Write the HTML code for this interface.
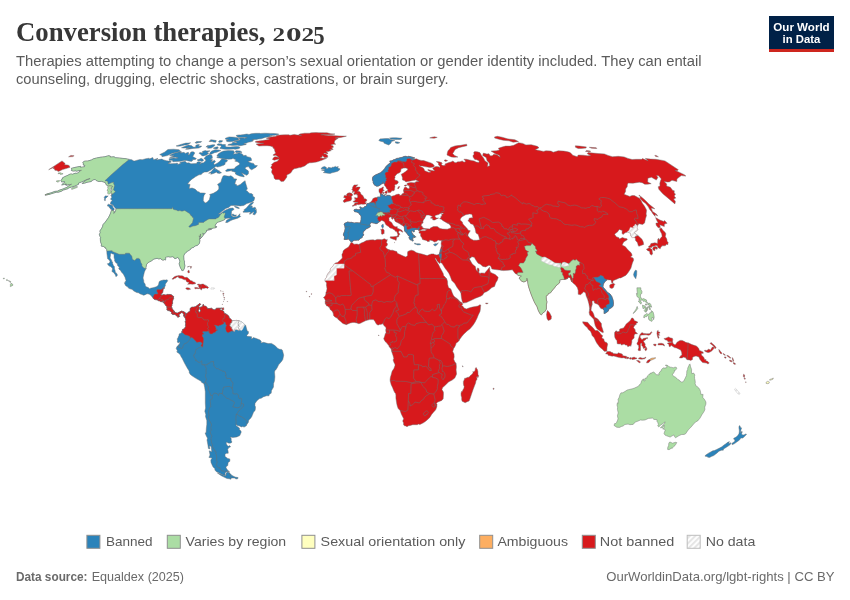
<!DOCTYPE html>
<html lang="en">
<head>
<meta charset="utf-8">
<title>Conversion therapies, 2025</title>
<style>
html,body{margin:0;padding:0;background:#fff;}
body{width:850px;height:600px;overflow:hidden;position:relative;font-family:"Liberation Sans",sans-serif;}
svg{position:absolute;left:0;top:0;will-change:transform;}
.title{font-family:"Liberation Serif",serif;font-weight:bold;font-size:26.7px;fill:#373737;}
.sub{font-family:"Liberation Sans",sans-serif;font-size:14.75px;fill:#5b5b5b;}
.leg{font-family:"Liberation Sans",sans-serif;font-size:13.3px;fill:#5b5b5b;}
.foot{font-family:"Liberation Sans",sans-serif;font-size:13px;fill:#6a6a6a;}
.logo{font-family:"Liberation Sans",sans-serif;font-weight:bold;font-size:11.6px;fill:#fff;}
</style>
</head>
<body>
<svg width="850" height="600" viewBox="0 0 850 600">
<defs>
<pattern id="hatch" patternUnits="userSpaceOnUse" width="3.9" height="3.9" patternTransform="rotate(45)">
<rect width="3.9" height="3.9" fill="#fdfdfd"/>
<line x1="0.9" y1="0" x2="0.9" y2="3.9" stroke="#e2e2e2" stroke-width="1.7"/>
</pattern>
</defs>
<rect width="850" height="600" fill="#fff"/>
<text class="title" x="16" y="41" textLength="249.5" lengthAdjust="spacingAndGlyphs">Conversion therapies,</text>
<g class="title">
<text x="272.6" y="40.6" font-size="19.6" textLength="12.6" lengthAdjust="spacingAndGlyphs">2</text>
<text x="285.9" y="40.6" font-size="19.6" textLength="15.6" lengthAdjust="spacingAndGlyphs">0</text>
<text x="301.4" y="40.6" font-size="19.6" textLength="12.6" lengthAdjust="spacingAndGlyphs">2</text>
<text x="313.2" y="44.3" font-size="24.4" textLength="11.4" lengthAdjust="spacingAndGlyphs">5</text>
</g>
<text class="sub" x="16" y="66.4" textLength="685.5" lengthAdjust="spacingAndGlyphs">Therapies attempting to change a person’s sexual orientation or gender identity included. They can entail</text>
<text class="sub" x="16" y="84" textLength="432.5" lengthAdjust="spacingAndGlyphs">counseling, drugging, electric shocks, castrations, or brain surgery.</text>
<g id="logo">
<rect x="769" y="16" width="65" height="36" fill="#002147"/>
<rect x="769" y="49" width="65" height="3" fill="#ce261e"/>
<text class="logo" x="773.3" y="30.7" textLength="56.4" lengthAdjust="spacingAndGlyphs">Our World</text>
<text class="logo" x="782.6" y="42.8" textLength="37.8" lengthAdjust="spacingAndGlyphs">in Data</text>
</g>
<g id="map" stroke="#6e6e6e" stroke-width="0.5" stroke-opacity="0.9" stroke-linejoin="round">
<path d="M350.7,242.7 352.0,242.4 354.0,244.2 357.0,244.0 358.7,244.5 361.3,242.9 363.7,242.1 366.3,240.6 370.0,239.9 373.2,239.8 374.9,240.3 377.1,239.4 379.4,239.4 382.0,239.7 384.1,238.8 385.4,239.0 385.9,240.1 387.3,239.4 387.0,241.1 386.4,242.4 387.6,244.0 387.0,245.8 385.5,246.8 386.2,248.1 387.8,249.2 388.7,249.6 390.7,250.3 392.6,250.2 394.8,251.0 396.8,251.6 397.4,253.3 400.1,254.6 403.2,255.9 405.9,257.0 407.6,255.4 407.5,253.1 407.8,251.5 410.1,250.5 411.7,250.2 414.1,251.0 416.2,252.6 418.7,253.3 421.8,253.9 423.8,254.6 427.2,255.6 429.6,254.5 431.5,253.9 433.7,253.9 434.6,254.5 436.4,254.9 437.7,254.8 438.9,254.4 440.8,259.1 440.3,261.4 440.0,263.1 439.6,263.6 438.4,262.2 437.2,260.9 435.9,258.6 435.5,257.9 435.2,258.8 436.1,260.6 437.6,263.0 438.9,265.3 439.9,267.4 441.5,270.3 443.2,273.4 443.6,275.5 446.0,278.1 446.7,278.9 447.5,281.2 447.7,284.6 448.5,287.5 450.9,289.1 452.2,292.7 453.3,295.3 454.7,296.9 457.3,298.7 460.2,301.8 462.3,303.1 462.6,304.7 461.5,305.8 462.6,306.0 464.1,308.1 466.4,308.9 468.9,308.0 472.3,307.1 475.3,306.5 478.0,306.0 479.8,304.8 480.8,305.1 480.5,307.1 480.4,308.9 480.0,311.5 478.3,314.9 477.0,318.3 475.0,322.2 473.0,325.3 470.1,328.7 467.1,331.0 463.7,334.2 461.6,336.8 460.0,338.9 458.6,341.2 457.4,342.3 456.0,343.3 455.8,344.6 454.6,347.2 453.7,348.3 452.7,351.6 454.0,354.0 454.2,356.9 453.7,359.2 454.8,361.8 456.1,363.4 456.4,366.8 456.1,369.9 456.6,374.1 454.8,378.0 452.2,380.1 448.5,381.9 445.8,384.8 442.7,387.6 441.9,389.5 443.4,392.1 443.5,393.6 443.3,397.3 443.2,398.8 441.8,400.4 437.4,402.2 436.4,403.5 437.0,404.3 436.8,406.9 435.7,409.8 433.3,412.4 431.8,414.2 429.8,417.4 426.9,420.2 425.3,421.5 423.4,422.8 421.1,423.9 419.8,424.5 418.5,424.1 417.3,424.7 414.9,424.7 412.8,424.7 410.3,425.4 408.5,425.8 407.0,426.7 405.7,426.0 404.5,425.7 403.6,424.9 403.5,422.8 402.7,421.0 403.7,418.7 402.3,416.1 401.3,414.0 400.1,410.6 398.2,408.5 397.4,406.4 396.8,404.1 396.5,402.2 395.9,398.2 395.9,395.2 395.6,393.6 394.7,392.6 393.7,390.5 392.5,387.4 391.2,384.8 390.2,381.1 390.1,379.5 390.4,377.2 391.1,374.9 392.1,371.2 393.9,368.6 395.0,365.5 394.9,363.9 394.2,363.1 393.1,360.0 393.8,358.4 393.1,355.8 391.8,351.9 391.6,351.1 391.1,349.0 389.0,346.4 388.8,345.6 386.1,342.3 385.1,341.5 383.8,338.9 383.8,338.1 384.3,337.2 384.9,335.2 385.4,333.4 386.1,333.1 385.7,330.0 386.1,327.9 385.1,326.4 384.1,325.8 383.1,324.3 383.1,323.5 380.8,324.5 379.8,324.3 378.9,325.0 377.1,324.8 375.9,323.2 375.0,321.4 373.4,319.6 371.8,319.6 369.7,319.6 367.9,320.1 365.9,320.6 363.5,321.7 362.4,322.2 361.0,323.0 358.9,323.7 356.8,323.0 354.3,322.4 352.8,322.4 350.2,323.0 348.5,323.7 346.2,324.7 345.8,324.5 342.8,323.5 340.7,321.4 338.7,320.1 337.3,318.3 335.0,317.0 333.6,315.7 333.4,314.6 333.1,312.8 332.1,311.2 331.2,310.2 330.0,309.4 329.8,308.1 328.9,307.3 327.6,306.0 326.6,306.0 326.2,304.7 325.5,304.2 325.3,303.7 325.1,301.7 325.4,300.5 324.5,298.5 323.4,297.6 324.3,297.1 325.5,295.3 325.9,294.0 325.9,292.5 326.5,291.2 327.0,288.8 326.6,286.2 326.4,284.9 326.6,283.6 326.2,282.3 325.0,281.2 325.1,280.2 325.2,278.9 326.1,278.1 326.8,276.8 326.8,276.0 327.6,274.2 328.9,272.4 329.6,272.1 330.3,270.6 330.4,269.2 331.3,267.6 332.7,266.6 334.3,264.0 334.3,263.9 335.5,263.0 337.5,262.6 339.3,260.9 340.4,260.1 342.3,258.0 341.9,254.6 342.9,252.6 343.1,251.0 344.5,249.4 346.8,248.1 348.5,247.1 350.0,244.5Z" fill="#d7191c"/>
<path d="M476.7,368.6 477.4,369.6 477.9,371.5 478.0,374.6 478.6,375.6 478.3,376.9 477.8,377.7 477.2,376.2 476.7,376.9 477.0,379.0 476.7,380.1 476.0,380.6 475.6,382.9 474.5,385.8 473.1,389.5 471.4,394.4 470.2,398.1 469.1,400.9 467.2,401.7 465.1,402.8 463.8,402.1 462.1,401.2 461.7,399.8 461.7,397.5 461.1,395.5 461.0,393.5 461.5,391.5 462.6,391.3 462.7,390.2 463.9,388.3 464.2,386.6 463.7,385.4 463.4,383.7 463.4,381.4 464.2,379.9 464.7,378.2 465.8,378.2 467.1,377.6 468.0,377.2 469.0,377.2 470.4,375.6 472.3,374.1 473.1,372.8 472.8,371.6 473.8,371.9 475.2,370.2 475.3,368.6 476.1,367.4Z" fill="#d7191c"/>
<path d="M343.3,235.0 343.7,233.3 344.6,231.2 345.1,228.6 344.8,226.3 344.1,224.2 344.7,223.2 346.4,222.6 347.5,221.9 350.0,222.4 351.6,222.3 354.1,223.0 356.0,222.7 357.9,222.8 359.7,223.0 360.6,221.9 361.0,219.6 361.1,217.6 361.0,215.8 359.6,214.5 359.0,213.2 357.8,212.5 356.4,212.0 354.6,211.7 353.9,210.3 354.4,209.5 356.4,209.2 358.1,209.7 359.5,209.5 360.4,209.5 360.3,208.2 359.7,206.9 360.9,206.9 361.3,207.8 363.1,207.9 363.8,207.4 364.3,206.8 365.7,206.3 366.6,205.4 366.7,204.0 367.3,203.6 368.6,203.4 370.1,202.7 370.4,202.2 371.4,201.2 372.4,200.0 372.8,198.7 374.0,198.1 375.4,197.6 376.9,197.5 377.5,197.9 377.3,197.0 379.1,196.9 380.0,197.1 380.4,196.4 381.0,196.4 380.6,195.8 380.2,195.3 380.7,194.9 380.1,193.9 380.1,193.4 379.6,192.6 379.0,192.3 379.0,191.0 378.9,189.7 379.1,189.4 379.7,188.5 381.2,188.3 382.2,187.3 383.4,186.9 383.4,187.7 383.0,188.9 383.0,189.7 384.2,190.1 383.9,190.8 382.9,190.8 382.6,191.9 382.2,192.4 381.7,193.2 381.7,194.0 382.8,194.4 383.1,195.3 384.6,195.1 385.0,195.3 384.4,196.1 385.8,196.1 386.9,195.8 387.7,195.0 388.8,195.4 390.0,195.4 390.2,195.9 391.2,196.4 392.6,195.9 394.5,195.5 396.3,194.5 398.7,194.1 399.8,194.6 399.3,195.0 399.7,195.3 401.0,195.3 401.5,195.0 401.9,194.5 402.0,193.8 402.9,193.8 403.9,192.8 403.8,191.9 403.6,191.0 403.4,190.0 404.0,188.8 404.1,187.8 405.9,186.9 407.2,188.0 408.1,188.8 409.0,188.6 409.5,188.0 409.2,186.6 409.3,185.6 407.8,185.5 407.2,184.5 407.0,183.4 408.1,183.0 409.3,182.7 411.1,182.5 413.2,182.7 415.3,182.8 415.3,182.0 416.9,181.6 418.3,181.6 419.1,181.6 418.0,181.0 415.9,179.9 414.4,180.2 412.8,180.5 410.7,180.9 409.3,181.2 407.6,181.5 405.9,181.9 405.0,181.0 404.2,180.6 402.6,180.1 402.4,178.9 402.5,177.8 401.8,175.8 401.2,174.2 403.1,173.3 403.8,172.8 404.4,172.3 405.8,171.4 406.7,170.5 407.8,169.8 407.5,168.7 406.1,168.1 405.4,168.0 403.6,168.1 402.1,168.6 401.0,169.1 400.8,170.5 400.6,171.7 399.5,172.8 397.8,173.4 396.8,174.0 395.8,175.4 394.8,176.0 395.1,177.5 394.6,178.4 394.9,179.9 395.7,180.3 397.4,180.8 398.4,182.1 397.9,183.2 396.8,184.2 395.2,184.6 394.7,185.1 395.0,186.9 394.6,188.0 394.6,189.6 394.0,190.7 393.2,190.8 391.7,190.8 390.9,192.3 389.9,192.6 388.3,192.7 388.4,192.2 387.7,191.1 387.2,190.5 387.9,189.6 386.5,188.5 385.9,187.1 384.6,185.5 384.2,183.9 383.7,183.4 383.2,182.8 383.2,181.8 382.8,182.7 382.6,183.7 381.4,183.9 380.5,184.9 378.5,186.1 376.7,186.3 375.7,185.7 374.3,184.9 373.8,183.9 373.1,183.0 373.1,181.5 372.7,180.6 372.4,179.1 372.6,177.7 372.9,176.7 374.5,175.6 376.2,174.6 377.2,174.2 379.1,173.3 380.5,172.8 381.4,172.1 382.8,170.7 383.3,170.0 384.7,168.7 385.3,167.5 386.2,166.2 388.1,164.6 389.6,163.3 390.5,162.4 389.7,161.0 392.0,160.8 393.5,159.7 395.0,159.4 396.6,158.4 398.7,158.2 399.7,157.8 401.3,157.5 402.4,157.2 403.9,156.5 405.6,156.3 407.7,156.7 408.7,156.3 411.0,156.8 413.2,157.4 414.8,157.9 413.3,158.4 411.4,158.4 413.4,159.2 414.7,159.1 416.5,158.8 418.6,159.8 421.1,160.4 423.7,160.6 426.5,161.5 429.3,162.4 430.9,162.9 432.5,163.7 433.8,165.0 434.5,166.2 433.7,166.8 432.6,167.2 430.1,167.4 427.4,167.1 424.7,166.6 422.3,166.1 420.2,165.9 419.1,165.0 419.8,166.2 421.5,167.1 423.4,168.0 424.4,169.8 424.7,170.8 426.6,171.4 428.4,172.2 430.4,172.3 430.5,171.4 429.0,171.1 427.6,170.0 428.1,169.5 430.6,170.2 433.3,170.7 434.7,170.8 433.7,169.8 432.7,168.4 433.8,167.5 435.9,166.5 438.4,166.7 439.7,167.5 440.0,166.2 438.6,165.0 438.4,163.0 436.3,161.6 439.1,161.8 441.6,162.6 442.3,163.5 441.0,164.1 442.3,165.3 443.4,165.6 445.4,165.3 444.9,164.0 446.3,163.5 448.8,162.6 451.1,161.9 452.9,161.0 454.7,162.4 456.0,162.7 457.8,161.8 460.0,161.8 462.2,160.9 464.1,162.3 465.7,161.3 463.9,159.2 466.5,159.3 471.3,160.4 474.2,161.0 476.1,162.1 478.9,162.6 479.2,161.0 476.7,159.7 474.8,159.5 473.1,157.1 473.0,155.6 474.1,154.3 473.7,152.4 474.7,151.6 477.2,151.8 479.9,152.6 481.5,155.4 483.7,158.2 484.9,160.8 488.0,163.0 487.5,166.4 489.7,165.7 489.2,163.0 487.1,160.8 486.1,157.5 482.6,155.4 483.4,153.1 486.9,154.1 489.0,153.7 490.1,155.8 492.2,155.8 493.8,154.3 497.1,154.8 500.2,157.3 499.2,155.2 494.8,153.5 491.1,151.1 496.2,150.8 499.5,149.9 498.4,148.3 502.0,147.1 505.6,146.1 510.1,146.1 513.8,145.3 515.6,144.3 518.6,142.7 522.7,143.4 525.9,144.9 531.2,144.7 537.3,146.3 539.0,147.7 537.1,148.7 535.3,149.7 540.4,150.8 543.5,151.4 545.9,150.8 551.0,151.1 553.2,152.2 555.8,151.5 558.2,150.8 563.7,151.1 567.8,151.8 570.2,152.6 572.1,154.5 572.7,155.2 577.2,156.7 578.3,155.0 583.5,155.2 587.5,155.8 590.7,155.4 587.2,153.7 588.1,152.6 593.1,153.1 598.1,153.5 604.4,153.9 608.1,155.4 612.4,156.7 615.4,156.5 618.3,156.3 624.2,156.9 628.0,158.4 632.1,159.5 635.9,159.3 641.7,159.3 642.4,158.6 648.2,160.8 645.4,158.4 650.5,159.1 655.8,159.3 661.4,160.2 665.0,160.9 678.3,169.7 677.3,170.7 675.1,170.5 678.1,171.7 684.3,174.7 685.9,176.1 681.3,175.6 679.0,177.3 676.9,179.1 676.8,181.5 672.0,180.3 669.3,181.9 667.2,182.0 664.1,181.5 666.7,183.9 666.5,185.9 670.3,187.2 672.8,190.5 674.3,190.8 674.1,192.9 675.5,194.0 674.2,196.1 675.8,198.1 673.6,198.9 675.4,201.4 674.9,203.9 670.2,199.9 662.8,193.7 658.8,189.2 658.2,186.8 660.0,186.1 659.8,183.2 660.5,180.8 661.3,178.9 658.6,175.8 656.5,175.6 657.9,177.5 656.3,180.1 651.5,177.3 647.9,178.2 647.7,182.0 651.2,183.7 647.5,184.2 644.8,184.3 642.2,182.7 639.3,182.2 636.1,182.7 632.9,183.2 628.5,183.1 627.5,183.9 627.2,186.8 625.6,189.0 625.6,191.4 624.1,194.3 629.8,196.4 632.1,195.5 634.4,195.6 639.7,198.4 641.0,200.4 642.2,203.1 644.4,206.1 645.9,208.7 646.6,210.2 646.1,214.0 646.5,215.5 645.6,218.3 644.9,221.4 644.6,223.0 642.6,224.5 638.8,223.7 637.6,225.8 636.8,228.1 638.0,229.4 636.2,231.2 634.4,232.3 635.0,233.8 637.9,235.4 642.0,239.3 643.3,242.1 643.7,244.5 640.9,245.5 638.8,246.3 638.2,245.3 637.5,242.7 635.4,240.3 635.5,238.2 633.8,237.5 632.2,237.7 630.8,235.6 630.5,233.3 627.7,232.0 625.1,232.8 623.0,234.6 622.0,233.3 622.2,230.4 619.2,229.4 617.5,232.0 615.0,233.8 614.7,234.6 616.3,236.7 618.9,237.7 619.5,239.0 622.4,237.5 624.3,238.2 627.1,238.8 627.2,239.8 623.7,241.9 622.4,244.5 622.5,245.3 625.2,246.6 628.1,250.0 631.1,252.8 632.2,255.2 630.6,257.0 633.1,258.0 633.7,259.9 632.4,263.0 630.9,268.2 628.5,272.1 626.0,275.2 620.8,277.9 619.3,278.1 616.1,279.4 613.0,280.7 612.9,283.1 611.7,282.8 611.0,279.9 609.7,279.9 607.2,279.8 604.8,281.8 603.4,284.1 603.0,286.5 603.4,287.5 605.4,289.8 607.3,292.2 610.1,294.0 611.8,296.4 613.1,300.0 613.5,303.4 613.1,306.3 611.0,308.1 609.0,308.9 608.2,311.2 605.2,313.3 604.0,313.6 604.1,310.4 602.9,308.9 600.9,308.6 599.6,306.8 599.1,305.5 597.6,304.2 594.5,303.1 594.1,301.1 593.1,300.8 592.0,301.3 592.3,304.4 591.4,307.3 591.0,310.2 592.7,312.0 593.8,314.4 594.6,317.2 597.2,318.5 598.4,319.8 601.4,323.5 601.5,326.1 602.7,329.5 603.5,332.3 602.3,332.6 601.6,332.1 598.8,330.3 596.7,328.4 595.2,325.6 594.4,322.2 593.8,319.3 592.6,318.0 589.7,315.1 589.1,312.5 589.6,309.9 589.7,308.6 589.2,305.5 588.8,303.4 587.7,299.5 586.2,296.1 585.6,293.0 583.8,291.7 582.4,293.0 580.6,294.8 578.2,294.3 578.2,290.4 577.4,287.8 575.4,284.9 573.6,283.6 572.0,281.9 571.1,280.2 570.4,277.9 568.4,277.1 567.5,278.6 565.3,279.2 564.0,279.4 562.5,279.4 559.8,279.9 559.8,281.8 559.3,283.1 557.7,284.4 556.0,285.7 554.3,288.3 552.7,289.8 550.7,292.7 548.5,293.5 548.0,294.8 546.1,296.1 546.4,300.0 547.0,301.8 546.4,304.7 546.4,309.1 544.7,311.8 543.0,312.8 541.4,314.9 540.0,313.8 538.2,310.2 537.1,306.8 534.5,302.4 531.7,295.8 530.2,291.7 528.5,286.5 527.9,283.6 527.6,280.7 526.9,278.1 526.7,280.7 523.9,282.0 521.6,281.2 519.0,278.1 521.5,276.0 518.3,275.5 516.8,274.2 515.1,273.4 513.5,271.3 512.4,269.8 508.0,270.3 503.1,270.6 501.5,270.3 499.2,270.0 495.1,269.5 491.9,269.0 490.7,266.1 489.0,265.3 485.7,266.9 482.9,266.4 480.4,264.3 478.1,263.3 476.2,260.6 474.2,257.3 471.7,256.7 470.8,258.0 469.7,258.0 469.6,259.3 471.0,261.7 472.1,263.8 474.1,265.6 475.4,266.6 475.9,269.2 477.4,271.6 477.2,269.5 477.5,267.9 478.9,268.5 479.2,271.1 478.6,272.1 479.8,273.4 481.6,272.9 484.8,273.2 485.6,272.1 487.4,270.0 488.9,268.1 489.5,267.2 489.9,270.8 490.7,272.4 495.2,274.5 498.2,277.3 497.5,279.9 495.8,282.8 494.5,286.5 491.9,287.5 489.1,290.1 486.5,291.7 484.3,292.6 482.4,295.3 480.2,296.4 475.5,298.2 472.9,299.5 466.4,302.6 463.0,303.1 462.2,301.3 461.4,297.4 460.9,293.2 460.4,291.9 458.4,289.3 456.9,287.2 454.6,283.3 451.8,280.5 450.1,276.0 448.8,273.2 446.9,270.6 445.4,268.7 441.8,263.0 440.4,262.7 441.0,259.1 440.8,259.1 438.9,254.4 439.4,253.6 439.8,252.4 440.2,250.5 440.9,247.6 441.4,246.0 441.1,243.4 441.6,240.6 440.3,240.6 438.1,240.1 436.3,241.6 434.4,242.0 432.5,240.8 429.6,239.9 429.4,241.4 427.5,241.6 426.3,240.4 424.5,240.1 422.5,239.5 421.9,237.7 420.6,235.9 420.6,233.6 419.0,233.0 419.1,231.7 420.1,230.7 421.8,230.8 424.9,230.7 426.7,229.8 424.7,229.2 422.6,229.2 420.6,230.2 419.0,231.0 418.5,230.2 418.2,229.5 415.1,229.4 414.1,230.7 414.4,231.7 413.2,231.9 412.9,231.2 412.0,230.4 411.5,231.7 412.3,233.6 413.2,234.3 412.6,234.7 414.9,236.4 415.0,237.8 414.1,237.2 412.8,237.2 413.3,238.2 412.3,238.2 413.3,240.8 412.1,241.1 411.3,239.5 410.3,240.1 408.8,237.5 410.0,236.4 408.7,236.0 407.7,234.6 406.5,232.8 406.0,232.5 404.6,231.0 404.4,228.4 404.3,226.8 403.4,226.3 402.3,225.4 401.4,224.9 400.1,224.0 397.7,222.7 396.6,222.2 395.0,221.2 394.3,219.1 393.2,218.1 392.8,218.9 392.2,219.4 391.6,218.6 391.5,217.6 391.9,217.2 390.6,216.9 388.8,217.8 389.1,219.1 389.0,220.4 389.7,221.3 391.6,222.4 393.3,225.4 395.2,226.7 397.5,226.8 397.0,227.9 399.2,228.9 401.6,230.1 402.7,231.4 402.5,232.3 401.7,231.7 399.9,230.6 398.7,231.5 398.6,232.5 400.0,234.3 398.7,234.9 399.0,236.2 398.0,237.1 397.1,237.1 397.0,236.4 397.9,235.1 397.8,234.3 396.7,231.6 395.3,231.2 394.8,230.1 393.6,229.5 392.2,228.6 390.0,228.0 389.2,227.2 388.3,226.3 386.8,225.5 385.4,224.1 384.9,222.6 383.9,221.3 381.9,220.4 381.1,220.6 380.1,221.7 379.1,221.9 378.7,222.2 377.9,222.7 377.3,223.5 375.8,223.7 374.7,223.2 373.1,223.0 371.8,222.6 370.4,223.2 369.9,224.2 369.9,225.3 370.4,225.8 370.2,226.8 368.1,228.1 366.0,228.9 365.3,229.9 363.5,231.7 362.9,233.2 363.9,235.0 362.4,236.2 362.0,238.0 361.4,238.0 360.1,238.6 358.8,240.3 358.1,240.1 356.0,240.3 354.0,240.3 351.9,241.9 351.4,242.1 349.9,240.8 349.7,240.2 348.5,239.0 346.5,239.5 344.1,239.5 344.6,236.9ZM430.5,228.0 433.4,226.6 437.2,226.4 440.0,228.4 442.7,229.0 447.3,229.2 450.9,227.9 450.8,226.2 449.1,224.0 446.1,222.4 442.7,220.5 441.7,219.6 439.6,218.6 440.9,217.8 440.9,216.3 442.0,216.3 441.6,214.5 443.6,213.5 442.7,213.1 440.1,213.6 438.7,214.5 435.8,215.3 434.8,215.9 435.5,217.3 436.6,218.1 438.6,218.0 436.6,218.9 434.9,220.0 432.8,220.0 432.6,218.6 430.4,218.0 432.5,216.5 431.2,216.0 429.0,215.1 426.4,215.1 425.5,216.7 424.6,218.3 422.9,220.9 423.1,223.0 421.8,223.5 421.1,225.3 422.3,226.7 422.9,227.9 424.7,228.6 429.6,228.9ZM461.6,217.3 460.8,218.3 460.1,219.9 462.3,221.9 462.9,224.0 465.2,226.6 466.7,227.9 468.3,230.2 470.3,230.8 468.7,233.3 467.9,234.9 468.1,235.9 470.1,238.4 473.4,240.2 476.7,240.3 479.8,239.8 479.4,238.8 479.0,236.9 478.1,234.3 476.6,233.6 475.4,231.7 476.0,231.7 475.6,231.0 475.0,228.4 474.2,226.8 473.1,224.5 470.6,223.7 469.9,222.4 467.8,220.6 468.8,219.9 469.2,218.2 471.4,217.8 472.7,218.1 472.3,215.5 471.7,214.2 469.4,214.0 465.7,214.8 464.8,215.3 462.1,216.8Z" fill="#d7191c"/>
<path d="M62.0,160.9 63.9,162.4 65.1,163.5 64.6,164.8 67.5,165.0 69.1,165.5 70.0,167.3 66.0,168.6 62.5,169.6 60.2,170.7 58.2,171.5 57.0,170.6 54.9,170.3 54.4,168.8 53.0,168.4 54.2,167.1 51.4,168.4 48.7,169.7Z" fill="#d7191c"/>
<path d="M371.9,202.7 373.4,202.5 375.1,203.2 374.7,204.1 375.4,204.2 375.6,203.1 375.8,202.4 375.2,201.6 376.7,201.4 377.4,200.5 377.3,199.5 377.6,198.1 377.4,197.8 377.5,197.9 377.3,197.0 379.1,196.9 380.0,197.1 380.4,196.4 381.0,196.4 380.6,195.8 380.2,195.3 380.7,194.9 380.1,193.9 380.1,193.9 380.2,193.9 381.7,194.2 382.1,194.2 382.8,194.4 383.1,195.3 384.6,195.1 385.0,195.3 384.4,196.1 385.8,196.1 386.9,195.8 387.7,195.0 388.8,195.4 390.0,195.4 390.2,195.9 391.0,196.3 391.1,196.4 391.6,197.9 391.2,199.0 392.1,199.7 392.5,201.0 392.5,202.1 393.2,203.1 392.9,204.0 391.9,203.6 390.4,204.4 389.2,205.1 387.6,205.4 388.5,206.4 388.8,207.4 389.6,207.9 391.3,209.2 390.7,209.8 389.6,210.7 389.9,211.6 389.9,212.5 388.3,212.2 385.9,212.7 384.7,212.3 384.3,213.0 383.0,212.3 380.8,211.7 378.9,212.3 378.0,216.5 377.6,216.8 378.1,217.7 377.2,218.6 378.1,219.6 377.8,220.5 379.5,221.0 379.2,221.9 379.1,221.9 378.7,222.2 377.9,222.7 377.3,223.5 375.8,223.7 374.7,223.2 373.1,223.0 371.8,222.6 370.4,223.2 369.9,224.2 369.9,225.3 370.4,225.8 370.2,226.8 368.1,228.1 366.0,228.9 365.3,229.9 363.5,231.7 362.9,233.2 363.9,235.0 362.4,236.2 362.0,238.0 361.4,238.0 360.1,238.6 358.8,240.3 358.1,240.1 356.0,240.3 354.0,240.3 351.9,241.9 351.4,242.1 349.9,240.8 349.7,240.2 348.5,239.0 346.5,239.5 344.1,239.5 344.6,236.9 343.3,235.0 343.7,233.3 344.6,231.2 345.1,228.6 344.8,226.3 344.1,224.2 344.7,223.2 346.4,222.6 347.5,221.9 350.0,222.4 351.6,222.3 354.1,223.0 356.0,222.7 357.9,222.8 359.7,223.0 360.6,221.9 361.0,219.6 361.1,217.6 361.0,215.8 359.6,214.5 359.0,213.2 357.8,212.5 356.4,212.0 354.6,211.7 353.9,210.3 354.4,209.5 356.4,209.2 358.1,209.7 359.5,209.5 360.4,209.5 360.3,208.2 359.7,206.9 360.9,206.9 361.3,207.8 363.1,207.9 363.8,207.4 364.3,206.8 365.7,206.3 366.6,205.4 366.7,204.0 367.3,203.6 368.6,203.4 370.1,202.7 370.2,202.7 370.2,202.7Z" fill="#2b83ba"/>
<path d="M384.0,183.7 383.7,183.4 383.2,182.8 383.2,181.8 382.8,182.7 382.6,183.7 381.4,183.9 380.5,184.9 378.5,186.1 376.7,186.3 375.7,185.7 374.3,184.9 373.8,183.9 373.1,183.0 373.1,181.5 372.7,180.6 372.4,179.1 372.6,177.7 372.9,176.7 374.5,175.6 376.2,174.6 377.2,174.2 379.1,173.3 380.5,172.8 381.4,172.1 382.8,170.7 383.3,170.0 384.7,168.7 385.3,167.5 386.2,166.2 388.1,164.6 389.6,163.3 390.5,162.4 389.7,161.0 392.0,160.8 393.5,159.7 395.0,159.4 396.6,158.4 398.7,158.2 399.7,157.8 401.3,157.5 402.4,157.2 403.9,156.5 405.6,156.3 407.7,156.7 408.7,156.3 411.0,156.8 413.2,157.4 414.8,157.9 413.3,158.4 411.4,158.4 413.4,159.2 414.7,159.1 414.8,159.6 413.6,159.7 412.4,160.2 410.6,159.1 409.8,158.4 407.4,158.7 406.7,159.5 406.6,161.0 405.4,161.8 402.1,161.5 400.3,160.8 398.7,160.8 397.5,160.7 397.2,162.1 394.0,161.9 392.8,162.8 390.9,164.1 391.5,164.8 390.3,166.8 388.6,167.3 388.8,169.1 387.6,170.7 388.3,171.0 387.7,172.0 386.0,172.1 384.9,173.7 385.1,174.4 385.6,176.1 385.4,177.5 386.7,178.2 385.7,179.1 386.4,180.6 385.0,181.8 385.3,183.2 384.1,183.7Z" fill="#2b83ba"/>
<path d="M404.6,225.3 405.5,225.2 406.5,226.1 406.8,227.0 406.7,228.4 407.2,229.4 407.9,229.5 409.1,229.4 409.9,228.8 411.8,228.2 413.2,228.1 415.1,228.0 416.9,228.5 418.5,228.2 418.9,227.3 419.6,228.2 419.1,229.3 418.6,229.9 418.6,230.3 418.5,230.2 418.2,229.5 415.1,229.4 414.1,230.7 414.4,231.7 413.2,231.9 412.9,231.2 412.0,230.4 411.5,231.7 412.3,233.6 413.2,234.3 412.6,234.7 414.9,236.4 415.0,237.8 414.1,237.2 412.8,237.2 413.3,238.2 412.3,238.2 413.3,240.8 412.1,241.1 411.3,239.5 410.3,240.1 408.8,237.5 410.0,236.4 408.7,236.0 407.7,234.6 406.5,232.8 406.0,232.5 404.6,231.0 404.4,228.4 404.3,226.8 404.2,226.8Z" fill="#2b83ba"/>
<path d="M439.4,253.7 439.4,253.6 439.4,253.6 439.8,252.4 440.2,250.5 440.4,249.7 441.3,249.3 441.9,249.2 441.6,250.7 441.5,251.5 440.7,251.3 440.3,252.8 440.5,254.1 441.6,253.9 441.5,255.2 441.3,257.0 441.0,258.9 440.8,259.1 439.0,254.6Z" fill="#2b83ba"/>
<path d="M517.9,272.6 523.1,272.4 521.5,269.0 520.1,266.9 518.5,265.6 520.1,263.0 523.5,263.1 525.2,260.4 525.9,258.0 527.9,255.0 527.1,252.6 528.7,251.8 526.4,250.5 525.3,249.4 524.8,247.3 524.2,246.4 526.6,245.6 530.5,245.6 532.1,243.4 535.3,246.6 535.6,248.6 536.8,250.0 537.1,251.3 535.5,251.0 536.7,253.9 539.2,255.4 542.7,257.3 544.9,257.0 549.4,259.6 552.5,261.4 554.8,263.0 557.1,263.3 559.6,263.3 561.0,262.7 561.6,264.8 562.5,262.7 564.2,262.2 566.6,263.0 567.6,263.5 569.3,263.3 570.9,261.3 573.1,259.6 575.1,260.3 576.4,259.2 577.9,260.8 579.9,262.3 579.5,263.8 580.0,265.3 577.8,264.9 576.0,266.5 576.3,268.2 575.4,270.4 575.5,271.6 574.9,273.8 573.1,273.3 573.5,276.0 573.1,276.8 573.4,278.1 572.3,278.6 572.6,280.5 572.0,281.9 571.1,280.2 570.4,277.9 568.4,277.1 567.5,278.6 565.3,279.2 564.0,279.4 562.5,279.4 559.8,279.9 559.8,281.8 559.3,283.1 557.7,284.4 556.0,285.7 554.3,288.3 552.7,289.8 550.7,292.7 548.5,293.5 548.0,294.8 546.1,296.1 546.4,300.0 547.0,301.8 546.4,304.7 546.4,309.1 544.7,311.8 543.0,312.8 541.4,314.9 540.0,313.8 538.2,310.2 537.1,306.8 534.5,302.4 531.7,295.8 530.2,291.7 528.5,286.5 527.9,283.6 527.6,280.7 526.9,278.1 526.7,280.7 523.9,282.0 521.6,281.2 519.0,278.1 521.5,276.0 518.3,275.5 516.8,274.2Z" fill="#abdda4"/>
<path d="M604.3,307.4 606.8,307.6 605.8,305.8 607.0,304.8 609.4,303.7 609.4,301.1 608.7,299.5 608.8,297.7 608.9,296.9 608.5,295.6 605.7,291.8 603.2,289.3 602.1,287.5 598.8,285.7 601.1,284.6 599.5,282.8 596.4,281.6 595.0,279.5 593.6,277.6 595.5,277.3 597.5,277.2 599.4,276.5 600.3,275.2 603.2,276.3 603.6,277.3 604.8,278.9 607.2,279.8 604.8,281.8 603.4,284.1 603.0,286.5 603.4,287.5 605.4,289.8 607.3,292.2 610.1,294.0 611.8,296.4 613.1,300.0 613.5,303.4 613.1,306.3 611.0,308.1 609.0,308.9 608.2,311.2 605.2,313.3 604.0,313.6 604.1,310.4 602.9,308.9Z" fill="#2b83ba"/>
<path d="M629.1,230.2 630.4,227.2 633.4,228.1 633.0,226.6 634.7,225.5 635.1,224.1 637.3,225.5 637.6,225.7 637.6,225.8 636.8,228.1 638.0,229.4 636.2,231.2 634.4,232.3 635.0,233.8 637.9,235.4 638.0,235.4 637.8,235.4 635.5,236.2 635.1,237.1 634.1,237.6 633.8,237.5 632.2,237.7 630.8,235.6 630.5,233.3 627.7,232.0 627.1,232.2 627.5,231.9Z" fill="url(#hatch)" stroke="#c4c4c4"/>
<path d="M378.9,212.3 380.8,211.7 382.8,212.3 383.1,213.6 384.8,214.1 384.8,214.9 384.2,215.7 382.5,215.1 382.0,216.7 380.8,215.5 379.6,216.5 378.0,216.5 377.4,215.3 375.7,215.9 376.0,215.0 377.7,212.6Z" fill="#abdda4"/>
<path d="M542.7,257.3 544.9,257.0 549.4,259.6 552.5,261.4 554.8,263.0 557.1,263.3 559.6,263.3 559.8,264.6 560.3,267.2 558.3,267.2 555.5,266.5 553.9,266.2 552.3,265.1 549.1,264.7 546.0,263.3 543.5,261.9 541.2,260.9 541.3,258.8Z" fill="url(#hatch)" stroke="#c4c4c4"/>
<path d="M561.6,264.8 562.5,262.7 564.2,262.2 566.6,263.0 567.6,263.5 568.7,264.6 569.0,266.0 566.6,266.1 563.9,266.4 562.1,266.2 561.5,265.3Z" fill="url(#hatch)" stroke="#c4c4c4"/>
<path d="M563.6,276.3 562.5,274.5 562.6,272.6 561.1,271.9 561.3,270.3 560.6,268.7 561.1,267.2 563.4,268.2 564.7,270.0 567.2,270.4 570.5,270.6 570.2,272.4 568.5,273.2 568.5,274.7 569.4,276.0 570.2,274.3 571.1,275.5 572.3,278.6 572.6,280.5 572.0,281.9 571.1,280.2 570.4,277.9 568.4,277.1 567.5,278.6 565.3,279.2 564.3,279.4 564.3,278.9Z" fill="#d7191c"/>
<path d="M71.4,168.3 76.0,167.2 80.5,166.3 80.4,167.3 84.4,166.8 85.0,165.4 83.3,165.0 83.4,163.7 82.8,162.3 84.8,161.1 87.9,161.0 91.5,159.9 93.5,158.8 96.5,158.0 100.7,157.2 104.6,156.8 108.5,155.7 110.3,156.1 110.2,157.1 114.1,156.8 115.4,157.7 119.4,158.0 122.6,158.4 125.2,158.6 129.2,159.4 131.9,159.7 133.2,160.8 134.6,161.0 137.2,160.2 140.0,159.5 142.2,159.7 145.9,158.7 149.2,158.2 149.3,159.1 152.7,157.5 153.7,159.7 158.0,158.3 156.3,159.9 158.7,159.6 161.9,159.1 163.6,159.9 166.6,160.8 168.6,161.1 170.4,161.0 171.4,162.1 168.0,163.3 170.6,163.7 175.4,163.5 177.4,163.0 177.8,164.4 180.7,163.3 179.8,162.4 185.2,161.3 186.8,163.0 188.9,162.8 190.9,163.8 196.5,163.5 197.2,162.1 199.1,161.7 201.2,162.5 199.5,164.6 201.9,162.8 203.2,162.9 205.8,160.7 205.2,159.3 204.0,158.4 206.2,156.0 209.5,154.5 211.4,154.9 212.1,155.8 212.4,158.2 210.0,159.3 212.7,159.7 211.0,161.9 214.6,160.3 215.5,161.7 213.8,163.3 214.2,164.8 217.2,163.3 219.8,161.3 221.8,158.8 224.0,159.1 226.2,159.4 227.6,160.5 227.0,161.6 224.8,162.8 225.3,163.9 224.2,165.0 219.8,166.6 217.2,167.0 215.9,166.3 214.6,167.4 211.5,169.4 210.4,170.3 207.2,171.9 204.6,172.0 202.5,173.0 201.2,174.6 199.0,174.8 195.4,176.8 191.6,179.4 189.7,181.3 187.6,184.0 190.1,184.4 189.5,186.7 189.2,188.5 192.1,188.0 194.9,189.1 196.2,190.1 197.0,191.2 199.0,191.9 200.4,192.9 203.5,193.0 205.5,193.3 204.0,195.4 203.4,197.9 203.3,200.7 205.1,203.1 207.0,202.2 209.3,199.7 210.3,195.8 209.6,194.5 213.3,193.3 216.3,191.6 218.2,189.9 218.9,188.3 218.7,186.2 217.5,184.4 221.0,181.9 221.5,179.7 223.0,176.1 224.6,175.5 227.3,176.1 229.1,176.3 230.9,175.7 232.1,176.6 233.6,177.8 233.7,178.8 236.8,179.0 235.7,181.0 234.8,183.9 236.4,184.4 237.0,185.9 240.3,184.5 243.3,181.9 245.1,180.7 245.5,182.8 246.5,186.0 247.4,188.9 246.0,190.3 248.0,191.7 249.2,193.2 252.0,193.8 252.8,194.6 252.9,196.6 254.3,197.0 254.7,198.0 253.9,200.7 252.2,201.7 250.4,202.6 246.9,203.5 243.7,205.5 240.2,205.9 236.1,205.4 233.1,205.4 231.0,205.5 228.6,207.4 225.7,208.5 221.5,211.8 218.3,214.2 220.2,213.7 224.7,210.4 229.7,208.3 232.8,208.0 234.2,209.3 231.6,211.1 231.4,213.7 231.5,215.7 233.7,216.9 237.2,216.5 240.1,213.7 239.7,215.5 240.7,216.5 237.7,218.2 232.7,219.7 230.3,220.8 227.4,222.6 225.8,222.4 226.5,220.3 230.8,218.1 227.5,218.2 225.0,218.5 225.0,219.4 222.5,220.6 220.1,221.5 217.7,222.2 216.0,223.7 215.1,225.7 215.3,227.1 216.1,227.1 216.2,226.2 216.6,226.8 216.2,227.5 214.7,227.9 213.8,227.9 212.0,228.4 209.8,228.6 207.8,229.3 211.0,228.9 211.5,229.3 208.3,230.1 206.9,230.2 206.2,230.6 206.8,230.7 205.8,232.5 203.7,234.5 203.7,233.8 202.7,233.0 203.2,234.9 202.9,235.9 201.9,236.9 200.1,239.0 199.9,238.9 201.2,237.1 200.3,236.2 200.7,233.9 200.0,235.1 200.0,236.7 198.8,236.3 199.9,237.2 199.3,239.7 199.9,239.8 199.9,240.7 199.4,243.3 197.6,245.3 195.1,246.0 193.3,247.6 192.2,247.7 190.8,248.6 190.3,249.6 187.4,251.3 186.0,252.4 184.5,254.0 183.7,255.9 183.8,257.6 183.9,259.9 184.5,261.8 184.3,262.9 184.9,265.9 184.5,267.7 184.2,268.7 183.4,270.3 182.7,270.6 181.7,270.3 181.4,269.1 180.8,268.6 179.9,266.2 179.3,264.3 179.2,263.3 179.9,261.6 179.6,260.1 178.4,257.9 177.6,257.5 175.1,258.7 174.7,258.6 174.0,257.4 172.7,256.7 170.1,257.1 168.3,256.7 166.4,257.0 165.5,257.4 165.8,258.0 165.5,259.1 165.8,259.6 165.3,260.0 164.5,259.6 163.6,260.1 162.0,260.0 160.8,258.6 158.7,258.9 157.2,258.3 155.8,258.6 153.8,259.1 151.3,261.0 148.8,262.2 147.3,263.4 146.5,264.6 145.9,267.7 146.2,268.6 144.8,270.9 144.2,272.8 143.4,276.2 143.1,277.5 143.2,278.9 143.7,280.2 143.8,282.2 145.1,284.1 145.4,285.7 146.1,286.8 148.4,287.6 149.3,288.7 151.3,288.0 153.0,287.8 154.8,287.2 156.3,286.7 157.9,285.7 158.6,284.2 159.1,282.0 159.6,281.2 161.2,280.6 163.7,279.9 165.7,280.1 167.1,279.8 167.6,280.3 167.3,281.6 165.9,283.2 165.2,284.8 165.5,285.3 165.0,286.3 164.2,288.4 163.7,287.8 163.2,287.8 163.6,288.2 163.5,288.8 162.9,290.0 163.1,290.4 162.8,291.3 162.9,291.5 162.5,292.8 161.9,293.6 161.5,293.6 160.9,294.5 161.7,295.1 161.9,294.7 162.6,295.1 162.8,295.1 163.3,294.7 164.0,294.5 164.2,294.8 164.6,294.7 165.5,294.9 166.6,294.8 167.4,294.5 167.7,294.3 168.3,294.4 168.9,294.5 169.5,294.5 169.9,294.3 171.0,294.7 171.4,294.7 172.0,295.2 172.6,295.8 173.4,296.2 173.9,296.9 173.6,297.1 173.5,297.7 173.6,298.7 173.1,299.6 172.7,300.7 172.5,301.7 172.6,302.5 172.6,303.7 172.1,303.9 171.9,305.0 172.0,305.6 171.5,306.4 171.6,307.1 171.9,307.4 172.3,308.9 173.2,309.9 174.2,311.1 174.9,312.0 174.9,312.5 175.8,312.7 176.0,312.4 176.6,313.1 177.7,312.9 178.8,312.3 180.2,311.8 181.1,311.0 182.3,311.1 182.2,311.4 183.4,311.5 184.4,311.9 185.1,312.7 186.0,313.4 185.6,313.8 186.1,315.3 185.6,316.1 184.9,315.9 184.5,317.1 183.9,316.4 183.4,315.0 184.0,314.4 183.4,314.1 183.1,313.3 182.0,312.5 181.0,312.7 180.5,313.6 179.5,314.2 178.9,314.4 178.7,314.9 179.7,316.3 179.0,316.7 178.8,317.1 177.6,317.2 177.4,315.7 177.0,316.1 176.3,315.9 175.9,314.9 174.9,314.6 174.3,314.4 173.4,314.4 173.3,315.0 173.1,314.6 171.8,314.0 171.4,313.4 171.6,312.9 171.6,312.4 171.0,311.8 170.1,311.2 169.4,311.0 169.3,310.2 168.7,309.7 168.8,310.4 168.3,311.1 167.8,310.3 167.1,310.1 166.8,309.5 166.9,308.8 167.3,308.0 166.6,307.6 167.2,307.1 166.5,306.3 165.5,305.2 165.0,304.3 164.2,303.5 163.1,302.4 163.4,302.0 163.7,302.4 163.9,302.1 163.5,301.3 162.9,301.1 162.6,301.7 161.2,301.7 160.4,301.5 159.6,300.9 158.3,300.8 157.7,300.1 156.6,299.8 155.1,299.6 154.1,299.2 153.0,298.1 150.8,295.3 149.7,294.4 147.9,293.8 146.7,293.9 144.7,294.9 143.5,295.2 142.0,294.5 140.4,294.0 138.4,292.8 136.7,292.5 134.3,291.3 132.6,290.0 132.2,289.3 130.8,289.1 128.7,288.3 127.9,287.1 125.7,285.7 124.8,284.0 124.4,282.7 125.3,282.4 125.1,281.8 125.8,281.0 126.0,280.2 125.4,279.0 125.3,278.0 124.7,276.7 123.3,274.1 121.4,272.0 120.6,270.4 119.0,269.2 118.7,268.7 119.4,267.0 118.4,266.4 117.4,265.2 117.3,263.4 116.1,263.1 115.2,261.8 114.5,260.5 114.7,259.7 114.1,257.8 114.0,255.7 114.2,254.8 113.0,253.7 112.2,253.9 111.2,253.1 110.5,254.1 110.5,255.4 110.1,257.4 110.4,258.4 111.6,260.3 111.8,260.9 111.9,261.9 112.1,261.9 112.5,261.9 112.6,263.5 113.0,264.3 113.2,265.2 114.4,266.5 114.5,268.9 114.9,270.0 115.3,271.2 115.1,272.6 116.2,272.8 116.9,273.9 117.5,275.1 117.3,275.5 116.2,276.5 115.8,276.5 115.5,275.0 114.3,273.4 113.0,272.1 111.9,271.5 112.4,269.6 112.4,268.2 111.5,267.4 110.3,266.2 109.9,266.5 109.5,265.9 108.3,265.2 107.4,263.8 107.7,263.5 108.5,263.6 109.5,262.7 110.0,261.6 108.9,259.6 107.7,258.9 107.4,257.3 107.2,255.6 106.9,253.5 106.8,251.1 106.9,249.8 106.0,248.4 105.1,248.0 105.2,247.2 104.0,247.1 103.5,246.4 101.6,246.2 101.2,245.8 101.5,244.3 100.5,241.7 100.3,238.1 100.7,237.5 100.1,236.7 99.4,234.5 100.3,232.4 99.8,231.0 101.4,228.8 102.6,226.6 103.0,224.6 105.2,222.2 108.5,217.6 110.2,214.1 111.0,212.0 111.2,210.7 111.8,210.2 114.2,211.1 113.7,213.5 114.6,212.8 115.6,210.7 116.2,208.7 115.9,208.7 113.7,206.3 113.1,205.1 110.3,204.0 110.8,201.9 112.3,200.2 110.5,199.2 111.8,197.2 111.0,195.4 112.0,194.2 111.8,193.2 110.7,192.4 112.0,190.3 111.5,188.3 112.5,186.1 110.9,185.9 107.9,185.9 106.5,185.1 105.2,182.6 103.8,182.1 101.5,181.3 98.7,181.5 96.2,180.5 95.2,179.4 92.6,180.0 91.3,181.5 87.4,182.2 84.8,183.1 82.2,183.6 83.5,182.1 87.0,179.7 89.7,179.0 89.9,178.4 86.1,179.7 82.9,181.4 78.5,183.1 78.5,184.3 74.9,186.0 71.8,186.9 69.0,187.8 67.5,188.8 63.2,190.1 61.3,191.3 58.0,192.3 56.9,192.1 54.4,192.8 51.4,193.7 49.1,194.4 45.0,195.1 45.1,194.8 48.5,193.5 51.2,192.8 54.7,191.4 57.3,191.2 59.3,190.2 63.5,188.8 64.5,188.3 66.8,187.4 69.1,185.6 71.6,184.2 68.7,184.9 68.7,184.4 66.6,185.4 66.8,184.0 65.2,185.0 65.9,183.8 62.9,184.8 61.7,184.8 63.3,183.3 64.8,182.4 64.6,181.5 61.6,182.0 61.3,180.9 60.8,180.3 62.4,179.0 62.3,178.0 64.6,176.7 67.9,175.3 70.0,174.1 71.6,174.0 72.4,174.3 75.3,173.2 76.2,173.4 78.5,172.7 79.5,171.7 79.1,171.2 81.5,170.3 80.3,170.4 77.9,170.8 76.8,171.3 76.0,170.8 73.2,171.1 71.4,170.5 71.8,169.6Z" fill="#2b83ba"/>
<path d="M172.0,208.7 172.5,207.6 173.1,207.8 172.9,209.0 174.6,209.7 176.4,210.1 178.0,210.9 179.8,210.6 182.0,211.2 184.7,210.4 190.3,214.0 190.1,214.8 190.6,215.0 191.2,215.7 191.5,216.0 192.1,216.0 192.2,216.4 191.8,216.8 193.5,218.0 192.5,222.6 191.3,224.0 189.8,225.4 189.1,226.3 188.8,226.7 190.0,227.3 192.9,226.1 195.3,225.7 198.5,224.4 198.7,223.3 198.5,222.8 199.7,222.4 203.6,222.4 204.6,221.4 207.9,219.4 209.0,218.9 215.9,218.9 216.3,218.2 218.1,217.7 219.2,216.5 220.5,214.5 222.7,212.6 223.0,213.2 224.6,212.8 225.3,213.6 224.1,217.1 225.0,218.5 225.0,219.4 222.5,220.6 220.1,221.5 217.7,222.2 216.0,223.7 215.1,225.7 215.3,227.1 216.1,227.1 216.2,226.2 216.6,226.8 216.2,227.5 214.7,227.9 213.8,227.9 212.0,228.4 209.8,228.6 207.8,229.3 211.0,228.9 211.5,229.3 208.3,230.1 206.9,230.2 206.2,230.6 206.8,230.7 205.8,232.5 203.7,234.5 203.7,233.8 202.7,233.0 203.2,234.9 202.9,235.9 201.9,236.9 200.1,239.0 199.9,238.9 201.2,237.1 200.3,236.2 200.7,233.9 200.0,235.1 200.0,236.7 198.8,236.3 199.9,237.2 199.3,239.7 199.9,239.8 199.9,240.7 199.4,243.3 197.6,245.3 195.1,246.0 193.3,247.6 192.2,247.7 190.8,248.6 190.3,249.6 187.4,251.3 186.0,252.4 184.5,254.0 183.7,255.9 183.8,257.6 183.9,259.9 184.5,261.8 184.3,262.9 184.9,265.9 184.5,267.7 184.2,268.7 183.4,270.3 182.7,270.6 181.7,270.3 181.4,269.1 180.8,268.6 179.9,266.2 179.3,264.3 179.2,263.3 179.9,261.6 179.6,260.1 178.4,257.9 177.6,257.5 175.1,258.7 174.7,258.6 174.0,257.4 172.7,256.7 170.1,257.1 168.3,256.7 166.4,257.0 165.5,257.4 165.8,258.0 165.5,259.1 165.8,259.6 165.3,260.0 164.5,259.6 163.6,260.1 162.0,260.0 160.8,258.6 158.7,258.9 157.2,258.3 155.8,258.6 153.8,259.1 151.3,261.0 148.8,262.2 147.3,263.4 146.5,264.6 145.9,267.7 146.1,268.4 145.3,268.6 143.8,268.1 141.9,266.0 141.9,264.2 140.9,262.7 139.9,259.3 138.6,258.4 136.7,258.4 134.8,260.5 133.1,259.7 132.2,258.9 132.1,257.5 131.7,256.1 130.7,254.9 129.9,254.1 129.4,253.2 125.5,253.2 125.2,254.3 119.1,254.3 114.7,252.4 111.8,251.3 112.2,250.7 106.8,251.1 106.9,249.8 106.0,248.4 105.1,248.0 105.2,247.2 104.0,247.1 103.5,246.4 101.6,246.2 101.2,245.8 101.5,244.3 100.5,241.7 100.3,238.1 100.7,237.5 100.1,236.7 99.4,234.5 100.3,232.4 99.8,231.0 101.4,228.8 102.6,226.6 103.0,224.6 105.2,222.2 108.5,217.6 110.2,214.1 111.0,212.0 111.2,210.7 111.8,210.2 114.2,211.1 113.7,213.5 114.6,212.8 115.6,210.7 116.2,208.7 120.5,208.7 124.8,208.7 129.1,208.7 133.4,208.7 137.7,208.7 142.0,208.7 146.2,208.7 150.5,208.7 154.8,208.7 159.1,208.7 163.4,208.7 167.7,208.7ZM226.0,222.5 225.8,222.4 225.9,222.2Z" fill="#abdda4"/>
<path d="M104.9,180.8 106.6,181.0 107.7,181.5 107.9,182.6 108.1,184.2 111.2,182.8 113.8,182.0 113.5,183.3 113.9,184.3 114.5,185.4 114.1,187.1 113.5,189.9 115.4,191.4 114.1,192.9 112.0,194.2 111.8,193.2 110.7,192.4 112.0,190.3 111.5,188.3 112.5,186.1 110.9,185.9 107.9,185.9 106.5,185.1 105.2,182.6 103.8,182.1 101.5,181.3 98.7,181.5 96.2,180.5 95.2,179.4 92.6,180.0 91.3,181.5 87.4,182.2 84.8,183.1 82.2,183.6 83.5,182.1 87.0,179.7 89.7,179.0 89.9,178.4 86.1,179.7 82.9,181.4 78.5,183.1 78.5,184.3 74.9,186.0 71.8,186.9 69.0,187.8 67.5,188.8 63.2,190.1 61.3,191.3 58.0,192.3 56.9,192.1 54.4,192.8 51.4,193.7 49.1,194.4 45.0,195.1 45.1,194.8 48.5,193.5 51.2,192.8 54.7,191.4 57.3,191.2 59.3,190.2 63.5,188.8 64.5,188.3 66.8,187.4 69.1,185.6 71.6,184.2 68.7,184.9 68.7,184.4 66.6,185.4 66.8,184.0 65.2,185.0 65.9,183.8 62.9,184.8 61.7,184.8 63.3,183.3 64.8,182.4 64.6,181.5 61.6,182.0 61.3,180.9 60.8,180.3 62.4,179.0 62.3,178.0 64.6,176.7 67.9,175.3 70.0,174.1 71.6,174.0 72.4,174.3 75.3,173.2 76.2,173.4 78.5,172.7 79.5,171.7 79.1,171.2 81.5,170.3 80.3,170.4 77.9,170.8 76.8,171.3 76.0,170.8 73.2,171.1 71.4,170.5 71.8,169.6 71.4,168.3 76.0,167.2 80.5,166.3 80.4,167.3 84.4,166.8 85.0,165.4 83.3,165.0 83.4,163.7 82.8,162.3 84.8,161.1 87.9,161.0 91.5,159.9 93.5,158.8 96.5,158.0 100.7,157.2 104.6,156.8 108.5,155.7 110.3,156.1 110.2,157.1 114.1,156.8 115.4,157.7 119.4,158.0 122.6,158.4 125.2,158.6 129.2,159.4 122.8,164.6 116.7,169.9 110.7,175.3ZM111.4,195.4 111.1,195.4 111.0,195.4 112.0,194.2Z" fill="#abdda4"/>
<path d="M154.6,294.1 157.6,294.1 157.8,293.2 156.7,291.0 157.0,289.6 161.1,289.6 161.8,289.3 163.2,287.8 163.6,288.2 163.5,288.8 162.9,290.0 163.1,290.4 162.8,291.3 162.9,291.5 162.5,292.8 161.9,293.6 161.5,293.6 160.9,294.5 161.7,295.1 161.9,294.7 162.6,295.1 162.8,295.1 163.3,294.7 164.0,294.5 164.2,294.8 164.6,294.7 165.5,294.9 166.6,294.8 167.4,294.5 167.7,294.3 168.3,294.4 168.9,294.5 169.5,294.5 169.9,294.3 171.0,294.7 171.4,294.7 172.0,295.2 172.6,295.8 173.4,296.2 173.9,296.9 173.6,297.1 173.5,297.7 173.6,298.7 173.1,299.6 172.7,300.7 172.5,301.7 172.6,302.5 172.6,303.7 172.1,303.9 171.9,305.0 172.0,305.6 171.5,306.4 171.6,307.1 171.9,307.4 172.3,308.9 173.2,309.9 174.2,311.1 174.9,312.0 174.9,312.5 175.8,312.7 176.0,312.4 176.6,313.1 177.7,312.9 178.8,312.3 180.2,311.8 181.1,311.0 182.3,311.1 182.2,311.4 183.4,311.5 184.4,311.9 185.1,312.7 186.0,313.4 185.6,313.8 186.1,315.3 185.6,316.1 184.9,315.9 184.5,317.1 183.9,316.4 183.4,315.0 184.0,314.4 183.4,314.1 183.1,313.3 182.0,312.5 181.0,312.7 180.5,313.6 179.5,314.2 178.9,314.4 178.7,314.9 179.7,316.3 179.0,316.7 178.8,317.1 177.6,317.2 177.4,315.7 177.0,316.1 176.3,315.9 175.9,314.9 174.9,314.6 174.3,314.4 173.4,314.4 173.3,315.0 173.1,314.6 171.8,314.0 171.4,313.4 171.6,312.9 171.6,312.4 171.0,311.8 170.1,311.2 169.4,311.0 169.3,310.2 168.7,309.7 168.8,310.4 168.3,311.1 167.8,310.3 167.1,310.1 166.8,309.5 166.9,308.8 167.3,308.0 166.6,307.6 167.2,307.1 166.5,306.3 165.5,305.2 165.0,304.3 164.2,303.5 163.1,302.4 163.4,302.0 163.7,302.4 163.9,302.1 163.5,301.3 162.9,301.1 162.6,301.7 161.2,301.7 160.4,301.5 159.6,300.9 158.3,300.8 157.7,300.1 156.6,299.8 155.1,299.6 154.1,299.2 153.0,298.1 153.3,296.2ZM163.9,287.5 164.4,287.9 164.2,288.4 163.7,287.8 163.2,287.8Z" fill="#d7191c"/>
<path d="M186.0,313.4 187.1,313.4 188.9,311.6 190.0,311.4 190.1,308.4 191.9,307.1 193.3,307.1 195.4,306.7 198.1,304.8 199.4,303.5 200.2,303.7 200.7,304.4 198.7,306.3 199.5,307.4 199.3,308.8 198.3,310.3 199.0,312.4 200.0,312.1 200.6,310.3 199.9,309.4 199.9,307.4 202.9,306.3 202.6,305.1 203.4,304.3 204.1,306.1 205.7,306.1 207.1,307.6 207.2,308.5 209.3,308.5 211.7,308.2 213.0,309.4 214.7,309.7 216.1,308.9 216.2,308.2 221.7,308.1 219.7,308.9 220.4,310.1 222.2,310.3 223.9,311.5 224.3,313.6 225.4,313.6 226.3,314.2 227.8,315.1 229.1,316.8 229.2,318.1 230.0,318.3 231.2,319.6 232.1,320.5 234.9,321.0 235.1,320.5 236.9,320.4 239.5,321.0 240.3,321.3 241.8,321.9 244.3,324.1 244.7,325.2 245.5,325.0 246.0,326.5 247.2,331.0 248.4,331.4 248.5,333.3 246.7,335.5 247.4,336.3 251.6,336.7 251.6,339.3 253.4,337.6 256.3,338.5 260.1,340.0 261.3,341.6 260.8,343.0 263.6,342.3 268.1,343.6 271.5,343.4 274.9,345.6 277.9,348.5 279.7,349.3 281.6,349.4 282.4,350.2 283.3,353.6 283.7,355.2 282.8,359.5 281.7,361.2 278.6,364.8 277.2,367.7 275.7,370.0 275.2,370.0 274.5,372.0 274.9,376.8 274.5,380.8 273.6,383.6 273.5,387.1 271.5,390.5 271.2,393.2 269.4,394.3 269.0,395.8 266.6,395.8 263.1,396.9 261.6,398.1 259.2,398.8 256.7,400.9 255.0,403.5 254.9,405.4 255.5,406.9 255.3,409.5 254.9,410.7 253.6,412.1 251.7,416.7 250.2,418.8 248.8,420.1 248.3,422.6 247.1,424.0 246.4,425.7 244.2,427.1 242.5,426.6 241.4,426.9 239.1,425.8 237.7,425.8 236.1,424.4 236.2,425.8 239.4,428.0 239.5,429.7 241.0,430.9 241.2,432.2 239.8,435.6 236.9,436.9 232.8,437.5 230.4,437.1 231.2,438.7 231.2,440.6 232.0,442.1 231.0,443.0 229.0,443.2 226.6,442.3 226.1,443.0 227.1,445.6 228.7,446.3 229.6,445.6 230.6,446.8 228.9,447.6 227.7,449.3 228.2,451.9 228.2,453.3 226.3,453.3 225.0,454.6 225.1,456.5 227.7,458.4 229.8,458.9 229.9,461.2 228.1,462.6 227.8,465.5 226.3,466.5 226.0,467.8 227.7,470.3 229.6,471.8 228.8,471.6 227.0,471.6 226.3,472.3 224.9,473.1 225.6,475.5 224.8,475.5 222.3,474.8 219.3,473.0 216.1,471.5 214.9,470.0 214.8,468.5 213.0,466.9 211.0,462.5 210.8,460.0 212.2,458.1 208.9,457.4 210.0,455.1 209.2,450.8 211.8,451.7 211.1,446.5 209.4,445.7 209.9,448.9 208.4,448.5 207.9,444.9 207.0,440.1 207.5,438.3 206.2,435.8 205.1,432.9 206.1,432.7 206.3,428.6 206.8,424.4 206.8,420.5 205.5,416.6 205.8,414.5 204.8,411.2 205.6,408.1 205.3,403.0 205.3,397.7 205.3,391.8 204.7,387.5 203.9,383.8 201.5,382.3 201.1,381.2 196.3,378.6 192.0,375.8 190.1,374.2 189.0,372.0 189.3,371.3 187.1,367.8 184.5,363.1 182.0,357.9 181.1,356.7 180.3,354.8 178.4,353.1 176.7,352.0 177.5,350.9 176.2,348.4 176.9,346.6 178.7,344.9 179.9,342.9 179.3,341.7 178.5,343.0 177.1,341.9 177.6,341.1 177.2,338.7 177.9,338.3 178.3,336.8 179.2,335.1 179.0,334.0 180.3,333.4 181.9,332.3 181.6,331.6 182.5,331.4 182.4,330.1 182.9,329.1 184.1,329.0 185.1,327.3 186.0,326.0 185.2,325.3 185.7,323.9 185.2,321.4 185.8,320.7 185.4,318.5 184.5,317.1 184.9,315.9 185.6,316.1 186.1,315.3 185.6,313.8Z" fill="#2b83ba"/>
<path d="M239.3,321.0 238.1,323.2 238.3,325.0 239.2,326.6 238.3,327.7 239.2,329.5 238.9,330.5 238.0,330.0 236.6,329.5 235.6,329.7 234.6,329.5 234.4,330.3 234.8,330.8 234.6,331.3 233.3,331.0 232.7,331.2 231.4,330.9 230.8,331.6 229.7,332.1 228.9,332.2 228.7,332.7 227.5,332.6 226.1,331.3 226.0,330.1 225.4,328.8 225.9,326.6 226.5,325.7 226.0,324.5 225.2,324.1 225.6,323.0 225.0,322.3 223.8,322.4 224.1,323.2 223.3,324.1 220.6,325.2 219.0,325.6 218.3,326.2 216.5,325.6 214.7,325.2 214.4,325.4 215.4,326.1 216.2,329.0 215.6,329.5 217.5,329.7 217.6,330.3 215.9,331.0 215.7,332.1 214.7,332.5 213.0,333.1 212.5,333.9 210.7,334.0 209.1,333.0 208.6,331.6 208.0,330.7 207.3,331.6 202.8,331.6 202.8,333.1 204.0,333.4 203.5,334.2 202.3,334.6 202.3,336.5 203.2,337.4 203.7,338.9 203.6,340.0 202.7,347.2 200.8,345.8 202.2,343.2 200.5,341.9 199.1,342.1 196.9,342.4 193.9,339.3 192.0,337.4 190.2,338.3 189.8,336.4 187.1,335.3 185.2,335.0 184.2,333.9 181.9,332.3 181.6,331.6 182.5,331.4 182.4,330.1 182.9,329.1 184.1,329.0 185.1,327.3 186.0,326.0 185.2,325.3 185.7,323.9 185.2,321.4 185.8,320.7 185.4,318.5 184.5,317.1 184.9,315.9 185.6,316.1 186.1,315.3 185.6,313.8 186.0,313.4 187.1,313.4 188.9,311.6 190.0,311.4 190.1,308.4 191.9,307.1 193.3,307.1 195.4,306.7 198.1,304.8 199.4,303.5 200.2,303.7 200.7,304.4 198.7,306.3 199.5,307.4 199.3,308.8 198.3,310.3 199.0,312.4 200.0,312.1 200.6,310.3 199.9,309.4 199.9,307.4 202.9,306.3 202.6,305.1 203.4,304.3 204.1,306.1 205.7,306.1 207.1,307.6 207.2,308.5 209.3,308.5 211.7,308.2 213.0,309.4 214.7,309.7 216.1,308.9 216.2,308.2 221.7,308.1 219.7,308.9 220.4,310.1 222.2,310.3 223.9,311.5 224.3,313.6 225.4,313.6 226.3,314.2 227.8,315.1 229.1,316.8 229.2,318.1 230.0,318.3 231.2,319.6 232.1,320.5 234.9,321.0 235.1,320.5 236.9,320.4 239.3,321.0Z" fill="#d7191c"/>
<path d="M242.5,329.5 241.6,330.4 239.8,329.9 238.9,330.5 238.0,330.0 236.6,329.5 235.6,329.7 234.6,329.5 234.4,330.3 234.8,330.8 234.6,331.3 233.3,331.0 231.9,328.8 231.6,327.3 230.9,327.3 229.9,325.4 230.4,324.0 230.3,323.5 231.7,322.8 232.1,320.5 232.1,320.5 234.9,321.0 235.1,320.5 236.9,320.4 239.5,321.0 240.3,321.3 241.8,321.9 244.3,324.1 244.7,325.2Z" fill="url(#hatch)" stroke="#c4c4c4"/>
<path d="M230.9,479.3 229.2,478.8 227.0,478.5 224.0,477.1 221.3,475.7 217.4,473.0 219.2,473.5 222.7,475.1 225.7,476.0 226.1,474.9 226.1,473.3 227.4,472.1 229.0,472.5 230.2,473.6 232.0,475.5 235.1,477.0 238.1,477.6 237.7,478.8 236.0,479.0 234.6,478.1 233.4,478.0 231.3,478.0Z" fill="#2b83ba"/>
<path d="M690.0,363.9 690.6,366.8 691.6,369.5 691.5,372.0 691.9,373.8 693.6,373.0 694.9,375.0 694.5,376.3 694.6,378.5 695.0,380.1 695.3,382.3 695.1,383.7 696.2,386.2 697.5,386.8 698.8,388.0 699.9,389.7 700.5,391.4 700.8,394.3 703.1,394.4 702.7,397.3 703.9,398.8 704.8,399.9 705.9,402.0 705.9,404.1 704.7,407.2 704.9,409.4 704.0,411.6 701.7,415.0 700.8,416.8 699.7,418.5 697.7,420.9 695.5,422.0 693.6,424.1 691.1,427.0 689.0,429.1 687.5,430.9 685.6,433.8 684.0,434.5 681.7,434.5 679.1,435.6 675.5,437.8 674.5,436.6 674.1,435.1 673.1,435.3 670.1,437.1 668.6,436.5 666.6,435.8 665.0,435.1 664.0,433.5 665.1,430.3 664.6,429.2 662.6,429.0 664.4,427.0 664.1,425.2 662.8,427.5 660.4,427.9 663.1,425.0 664.6,423.6 665.1,421.8 663.7,423.0 662.5,423.9 660.7,424.9 658.8,427.0 657.7,426.0 658.4,424.5 657.8,422.6 657.1,421.7 656.9,419.7 653.9,419.4 652.5,418.1 648.4,418.4 645.0,420.0 642.4,420.2 640.4,420.0 637.6,421.3 635.3,422.0 633.2,424.4 629.9,424.7 628.1,424.1 624.9,424.5 623.1,426.0 621.1,426.6 619.7,427.4 616.8,427.3 614.0,425.4 614.6,423.6 615.9,423.4 616.4,422.8 617.7,420.0 618.0,418.4 617.4,415.8 618.2,412.9 617.8,411.1 617.4,409.3 617.6,407.3 617.0,405.1 617.4,402.8 618.2,403.5 618.3,400.9 618.0,399.6 619.2,397.3 619.9,394.7 621.0,392.7 622.0,393.0 624.0,392.1 627.2,390.0 628.3,389.7 632.3,388.8 634.6,388.0 638.5,386.2 639.3,384.8 640.9,383.5 641.5,381.0 643.4,378.8 644.1,381.0 645.1,380.5 644.5,379.3 645.4,378.0 646.7,378.2 647.0,376.5 648.4,375.2 649.0,374.3 650.3,373.8 650.4,373.0 651.4,373.4 651.5,372.8 653.7,372.0 655.2,373.3 656.2,374.7 657.6,374.7 659.1,375.0 658.8,373.5 660.2,371.5 661.4,370.8 661.1,370.2 662.2,368.7 663.7,367.8 664.9,368.1 666.8,367.6 667.0,366.2 665.3,365.3 666.6,365.1 668.1,365.7 669.2,366.8 671.1,367.4 671.8,367.2 673.1,367.9 674.5,367.3 675.3,367.4 675.9,366.9 676.8,368.2 676.0,369.6 675.0,370.7 674.2,370.7 674.4,371.7 673.5,373.2 672.5,374.3 672.5,375.1 674.1,376.5 675.6,377.3 676.7,378.2 678.0,379.8 678.7,379.8 679.7,380.5 679.9,381.2 681.9,382.2 683.7,381.2 684.3,379.9 684.9,378.8 685.6,377.3 686.6,375.2 686.5,373.9 686.8,373.2 686.7,371.7 687.3,369.8 687.9,369.2 687.6,368.3 688.9,365.6 689.1,364.8Z" fill="#abdda4"/>
<path d="M669.6,442.1 670.9,442.3 672.3,443.2 673.7,442.8 675.7,442.3 676.8,442.6 675.0,445.6 673.7,446.5 672.0,448.5 671.8,447.9 669.1,449.7 667.6,449.4 667.8,447.2 668.6,445.6 668.8,443.2Z" fill="#abdda4"/>
<path d="M739.3,425.8 740.0,425.8 740.3,427.3 741.6,427.9 740.8,430.3 740.7,433.0 741.8,431.3 742.3,431.9 741.5,433.9 742.5,434.8 743.9,434.9 745.7,434.0 746.6,434.3 744.5,436.6 742.8,438.1 741.2,438.1 740.2,438.8 739.5,440.0 734.6,443.6 732.2,444.7 732.3,444.0 731.7,443.6 734.6,441.4 735.0,440.0 733.5,439.0 734.1,438.1 736.2,437.1 738.0,435.2 739.0,433.5 739.3,431.7 739.3,430.1 738.9,427.9 739.1,426.1Z" fill="#2b83ba"/>
<path d="M729.4,441.6 729.0,442.6 728.7,443.8 730.9,442.7 730.8,443.8 730.0,444.8 728.2,446.1 725.3,447.9 723.5,448.9 723.3,450.2 721.6,450.2 719.0,451.2 717.1,452.9 713.8,455.5 711.3,456.6 709.6,457.4 707.8,457.2 707.1,456.5 705.1,456.2 705.4,455.3 708.1,453.4 712.8,450.8 714.4,450.5 716.7,449.4 719.5,448.1 721.9,446.7 724.3,444.8 725.6,444.1 726.9,442.8Z" fill="#2b83ba"/>
<path d="M665.8,338.2 668.5,336.9 670.7,338.0 672.3,338.2 672.8,339.5 672.5,341.5 672.9,343.2 674.2,344.6 675.3,344.7 677.3,342.0 680.0,340.4 682.1,340.4 684.0,341.3 685.7,342.3 687.4,342.8 688.1,342.8 691.9,344.6 694.1,345.3 696.3,346.0 697.8,347.3 698.9,348.8 699.2,350.2 702.9,351.9 703.4,353.2 701.2,353.5 701.6,355.3 703.6,357.0 704.8,359.7 706.1,359.6 705.8,360.8 707.6,361.3 709.2,362.9 708.8,363.6 707.2,363.8 706.8,363.1 702.6,362.5 701.0,360.8 699.8,359.3 698.9,357.0 696.0,355.9 694.0,356.6 692.5,357.5 692.5,359.5 690.7,360.4 689.4,359.9 687.1,359.7 685.3,357.6 683.0,357.1 682.4,357.9 679.4,357.9 680.6,355.8 682.0,355.0 681.6,352.3 680.7,350.1 676.4,347.9 674.4,347.6 671.1,345.3 670.4,346.4 669.4,346.7 669.0,345.8 669.0,344.6 667.3,343.3 669.8,342.4 671.5,342.5 671.3,341.7 668.0,341.7 667.1,340.2 665.1,339.8 664.0,338.5Z" fill="#d7191c"/>
<path d="M616.0,330.8 617.7,331.7 619.4,331.2 619.8,329.0 623.6,327.9 625.1,325.8 626.2,324.1 627.1,323.2 629.0,321.8 630.6,320.0 631.7,318.0 632.7,317.9 633.9,319.3 634.1,320.5 635.6,321.1 637.6,321.9 637.4,323.0 636.0,323.1 636.4,324.3 634.8,325.2 633.5,327.5 635.3,330.0 635.0,331.2 637.6,333.7 634.8,333.9 634.1,335.7 634.1,338.1 631.9,339.9 631.8,342.5 630.8,346.4 630.5,345.5 627.8,346.7 626.9,345.1 625.3,345.0 624.2,344.1 621.4,345.1 620.6,343.7 619.1,344.0 617.2,343.7 616.9,340.2 615.8,339.4 614.8,337.2 614.6,335.0 614.6,332.5Z" fill="#d7191c"/>
<path d="M582.7,321.7 587.7,322.3 589.8,324.9 591.7,326.6 593.0,327.8 595.2,330.5 597.5,330.5 599.5,332.3 601.0,334.6 602.7,335.7 601.8,337.8 603.0,338.7 603.8,338.9 604.2,340.7 605.0,342.1 606.6,342.4 607.7,344.0 607.0,347.2 606.8,351.3 604.2,351.3 602.4,349.2 599.6,347.0 598.6,345.4 596.9,343.3 595.8,341.3 594.2,337.7 592.1,335.5 591.4,333.3 590.5,331.3 588.4,329.6 587.2,327.4 585.3,326.0 582.9,323.1Z" fill="#d7191c"/>
<path d="M605.6,353.9 607.3,351.4 610.1,351.5 611.9,352.6 612.9,352.7 613.1,353.6 617.5,353.9 618.1,352.8 622.2,354.1 622.9,355.8 626.5,356.3 626.4,358.8 623.9,357.8 621.9,357.9 619.5,357.6 617.4,357.1 614.9,356.2 613.2,355.9 612.2,356.2 608.0,355.2 607.8,354.0Z" fill="#d7191c"/>
<path d="M651.9,332.3 650.1,334.8 648.4,335.3 646.1,334.8 642.3,335.0 640.4,335.3 640.1,337.3 642.0,339.7 643.3,338.5 647.6,337.6 647.3,338.9 646.3,338.5 645.4,339.9 643.3,341.0 645.3,344.3 644.9,345.3 646.8,348.3 646.7,350.0 645.5,350.7 644.7,349.8 645.8,347.6 643.6,348.6 643.0,347.9 643.3,347.0 641.7,345.4 641.9,342.9 640.4,343.7 640.5,346.7 640.5,350.5 639.0,350.7 638.0,350.1 638.8,347.6 638.5,345.1 637.6,345.1 636.9,343.3 638.0,341.6 638.2,339.5 639.6,335.6 640.0,334.6 641.9,332.6 643.7,333.4 646.7,333.7 649.3,333.7 651.5,331.7Z" fill="#d7191c"/>
<path d="M626.4,357.3 628.0,357.1 629.1,357.8 627.9,358.9 626.6,358.0Z" fill="#d7191c"/>
<path d="M629.6,357.9 631.0,357.5 631.4,358.4 630.4,359.3 629.5,358.9Z" fill="#d7191c"/>
<path d="M631.6,357.9 634.2,357.1 635.1,357.8 636.9,358.0 636.6,358.8 634.3,359.2 632.0,359.6 631.6,358.9Z" fill="#d7191c"/>
<path d="M638.7,358.0 640.6,357.5 642.2,358.2 644.2,358.0 645.7,357.1 645.9,357.8 644.6,358.8 641.9,359.2 639.8,359.1 638.7,358.8Z" fill="#d7191c"/>
<path d="M636.5,360.6 638.5,360.4 640.5,361.9 639.5,362.9 637.8,361.6Z" fill="#d7191c"/>
<path d="M646.6,363.0 646.8,361.8 647.9,360.2 650.2,359.2 650.5,360.5 648.8,362.5Z" fill="#d7191c"/>
<path d="M656.9,333.4 657.3,331.0 658.2,330.3 658.1,331.8 659.6,332.1 659.9,333.1 658.3,333.7 659.8,335.2 658.2,335.2 659.1,338.0 658.2,338.3 657.6,336.7Z" fill="#d7191c"/>
<path d="M658.4,343.4 661.4,343.3 663.8,344.1 664.6,346.0 662.6,345.0 660.3,344.9 658.4,344.9 657.9,344.9Z" fill="#d7191c"/>
<path d="M653.5,344.3 655.6,344.1 656.3,345.0 655.4,345.9 653.9,345.4Z" fill="#d7191c"/>
<path d="M704.5,351.0 704.8,350.2 706.8,350.5 708.9,349.0 710.3,350.2 712.4,347.0 714.0,347.2 713.9,348.6 711.4,351.3 708.9,352.4 707.6,352.4 705.8,351.8Z" fill="#d7191c"/>
<path d="M710.1,343.4 711.0,342.4 714.5,345.4 716.1,347.6 715.1,348.8 714.3,347.2 712.9,345.5 711.5,344.5Z" fill="#d7191c"/>
<path d="M718.8,349.4 719.4,350.0 721.1,352.2 722.0,353.1 721.6,353.7 721.0,354.0 720.1,353.1 719.2,351.4Z" fill="#d7191c"/>
<path d="M723.1,353.6 724.3,354.0 725.4,355.2 724.8,355.3 724.0,354.8 723.1,354.0Z" fill="#d7191c"/>
<path d="M726.9,355.3 728.3,355.7 730.6,357.6 730.4,358.3 728.6,357.1 727.2,356.1Z" fill="#d7191c"/>
<path d="M732.2,357.6 733.0,358.4 733.7,361.0 733.2,361.4 732.5,359.5Z" fill="#d7191c"/>
<path d="M729.6,360.1 731.4,360.5 732.3,361.7 731.3,361.8 729.8,361.2Z" fill="#d7191c"/>
<path d="M733.3,362.6 735.0,363.2 735.6,364.2 734.0,364.2 733.2,363.0Z" fill="#d7191c"/>
<path d="M724.5,356.9 726.1,357.1 725.8,358.3 724.6,357.8Z" fill="#d7191c"/>
<path d="M743.6,374.2 744.6,375.0 744.5,376.9 743.5,376.8 743.3,376.2Z" fill="#d7191c"/>
<path d="M744.3,377.5 745.5,378.9 744.6,379.3 744.1,378.1Z" fill="#d7191c"/>
<path d="M745.6,381.8 746.3,382.2 745.6,382.5Z" fill="#d7191c"/>
<path d="M613.7,287.2 612.0,288.5 609.9,287.8 609.6,285.5 610.4,284.4 612.8,283.6 614.1,283.6 614.8,284.6 613.9,285.8Z" fill="#d7191c"/>
<path d="M547.3,310.4 549.0,311.9 550.1,313.7 551.4,316.4 551.2,319.1 550.2,319.8 548.2,320.5 547.0,318.4 546.5,314.6Z" fill="#d7191c"/>
<path d="M650.2,359.2 650.6,358.6 652.6,358.0 654.2,357.9 654.9,357.6 655.8,357.9 654.9,358.6 652.4,359.7 650.5,360.5Z" fill="#fdae61"/>
<path d="M734.4,389.3 735.5,388.4 736.5,389.3 737.9,391.0 739.3,392.6 740.1,393.8 739.2,394.4 738.1,393.8 736.7,392.6 735.7,391.1Z" fill="url(#hatch)" stroke="#c4c4c4"/>
<path d="M766.2,382.2 767.2,381.4 768.4,381.4 769.4,382.0 769.0,383.3 767.1,383.7 766.0,383.3Z" fill="#ffffbf"/>
<path d="M769.6,379.5 771.8,378.8 773.3,378.0 773.0,379.2 771.4,379.8 769.8,380.3Z" fill="#ffffbf"/>
<path d="M636.9,287.8 638.6,287.8 640.8,287.8 640.9,289.6 642.0,291.4 641.8,293.6 640.5,294.4 640.5,296.6 641.4,298.6 642.6,299.0 643.5,298.6 646.6,300.0 646.5,301.5 647.4,302.1 647.3,303.3 645.4,302.0 644.3,300.7 643.8,301.6 642.2,300.0 640.1,300.4 639.0,299.9 639.0,298.8 639.5,298.1 638.5,297.7 637.4,297.0 636.8,295.8 636.4,293.4 637.4,294.1 637.0,290.1Z" fill="#abdda4"/>
<path d="M651.1,310.6 653.0,311.8 653.4,313.1 653.7,314.1 654.2,317.2 653.6,319.7 652.6,317.0 651.6,318.3 652.5,320.2 651.9,321.4 649.0,320.0 648.3,318.0 648.8,316.8 647.3,315.5 646.7,316.7 645.6,316.6 644.1,318.0 643.6,317.2 644.3,315.0 645.8,314.4 646.9,313.3 647.8,314.5 649.5,313.8 649.8,312.7 651.4,312.5Z" fill="#abdda4"/>
<path d="M647.8,303.3 649.9,303.3 650.7,304.3 651.7,307.2 649.8,306.5 649.4,305.2 648.0,304.7Z" fill="#abdda4"/>
<path d="M648.4,306.3 649.8,306.5 649.9,308.0 650.7,309.0 650.1,309.9 649.5,309.5 649.4,307.7 648.4,307.6Z" fill="#abdda4"/>
<path d="M645.1,307.6 646.6,307.7 646.2,310.1 646.1,312.3 644.7,311.5 644.2,310.6 645.1,309.3Z" fill="#abdda4"/>
<path d="M642.5,305.0 644.0,305.8 645.3,305.9 645.4,306.9 644.5,308.0 643.1,308.8 642.7,307.3Z" fill="#abdda4"/>
<path d="M647.4,306.7 647.8,309.0 647.0,311.0 646.3,311.4 646.4,309.9 647.0,307.8Z" fill="#abdda4"/>
<path d="M638.4,300.9 639.8,300.8 641.2,301.8 641.5,303.1 640.8,304.2 639.9,302.9 638.6,301.8Z" fill="#abdda4"/>
<path d="M633.2,313.6 633.5,312.7 635.0,310.7 636.2,308.9 636.7,307.3 637.2,306.4 637.8,308.5 635.3,311.8Z" fill="#abdda4"/>
<path d="M645.0,304.7 646.2,303.7 647.4,305.0 646.3,305.0Z" fill="#abdda4"/>
<path d="M319.0,132.7 321.7,132.7 324.4,132.8 327.0,132.8 330.8,133.7 335.0,134.0 332.5,134.6 329.6,134.7 326.6,134.7 323.7,134.7 320.7,134.8 323.4,135.0 326.1,135.2 328.8,135.4 332.2,135.6 335.6,135.7 339.2,135.9 342.8,136.1 346.4,136.2 340.8,137.4 337.9,137.8 335.0,138.1 338.2,138.3 336.2,139.5 334.7,140.7 334.2,142.9 335.7,144.2 333.3,144.2 330.7,144.9 333.2,145.9 333.2,147.6 331.5,147.8 333.1,149.5 329.6,149.7 331.3,150.6 328.2,151.6 326.1,151.6 327.8,153.1 327.6,153.9 324.6,153.1 323.6,153.7 325.8,154.1 327.6,155.5 327.8,157.2 324.7,157.7 323.7,156.8 321.9,155.5 322.2,157.0 320.0,158.1 324.3,158.2 326.6,158.3 321.8,160.3 316.7,162.0 311.7,162.7 309.7,162.8 307.8,163.6 304.7,165.9 300.5,167.6 299.3,167.6 296.8,168.2 294.2,168.8 292.3,170.2 291.6,171.8 290.3,173.3 286.8,175.1 286.9,177.0 285.5,179.0 283.7,181.3 281.1,181.4 279.1,179.5 275.5,179.5 274.1,178.2 273.8,175.8 271.8,172.9 271.6,171.4 272.2,169.4 270.7,167.3 272.1,165.6 271.3,164.8 274.2,162.3 277.0,161.4 278.1,160.5 279.3,158.7 277.0,159.6 276.0,159.8 274.3,160.2 272.5,159.5 273.2,158.0 274.4,156.9 275.9,156.8 279.0,157.4 276.9,156.0 275.8,155.3 274.0,155.6 272.9,155.1 275.8,153.1 275.2,152.3 274.8,150.9 274.3,148.7 272.8,147.9 273.3,147.1 270.1,145.9 267.0,145.7 262.8,145.8 258.9,146.0 257.8,145.3 256.1,144.1 260.6,143.5 263.8,143.3 260.8,143.1 257.8,142.8 255.1,142.0 256.1,141.3 262.4,140.5 268.5,139.5 269.7,138.9 266.3,138.3 268.2,137.6 274.2,136.4 276.3,136.2 276.4,135.5 280.1,135.0 284.6,134.8 288.8,134.8 290.0,135.3 294.3,134.4 297.1,135.0 299.0,135.1 301.6,135.7 298.8,134.8 299.5,134.1 304.7,133.2 309.4,133.2 311.4,132.7 316.2,132.6Z" fill="#d7191c"/>
<path d="M228.2,150.6 233.6,150.7 234.5,152.9 233.2,154.2 236.9,153.6 239.0,152.7 241.8,153.8 243.3,154.9 242.8,155.7 246.1,155.3 246.9,156.7 250.4,157.4 251.2,158.4 251.6,160.4 247.9,161.5 251.0,162.9 253.5,163.4 254.9,165.4 257.4,165.6 256.1,167.2 251.7,169.8 250.0,168.8 248.5,166.6 246.1,167.0 245.1,168.2 246.2,169.6 248.0,170.6 248.5,171.2 248.5,173.5 247.0,175.3 245.0,174.6 241.5,172.7 243.1,174.7 244.2,176.1 244.1,176.9 239.6,176.0 236.5,174.7 235.0,173.5 236.0,172.8 234.0,171.7 231.7,171.2 232.2,170.5 226.5,171.5 225.4,170.8 227.6,169.1 231.0,169.0 234.6,168.8 234.6,168.0 235.9,166.8 239.5,164.6 239.6,163.6 239.4,162.9 237.5,161.8 234.7,161.0 236.0,160.5 235.2,159.2 233.9,159.0 233.1,158.3 231.7,159.0 228.5,159.2 222.8,158.7 219.8,158.1 217.4,157.8 216.7,157.0 219.2,156.0 216.8,156.0 218.3,153.8 221.2,151.9 223.6,151.1Z" fill="#2b83ba"/>
<path d="M194.8,152.9 193.6,155.0 192.7,156.5 194.4,157.5 196.4,158.6 195.4,159.5 192.4,159.7 192.7,160.6 191.4,161.4 188.7,161.0 186.5,160.4 184.4,160.6 180.5,161.3 176.7,161.5 172.8,161.8 172.8,160.8 171.2,160.2 169.4,160.5 169.1,158.7 170.5,158.5 173.5,158.1 175.8,158.2 178.2,157.9 175.6,157.3 171.8,157.5 169.6,157.4 174.3,155.8 171.8,155.8 169.6,155.3 172.8,153.7 174.9,152.9 180.6,151.6 181.7,152.0 179.9,153.0 184.1,152.3 185.2,153.4 188.2,152.3 188.9,153.0 188.0,155.1 189.7,154.2 190.9,152.0 192.7,151.7 193.9,152.0Z" fill="#2b83ba"/>
<path d="M167.9,149.5 173.6,149.2 179.0,149.7 180.6,151.2 172.2,153.3 167.4,155.6 161.9,156.7 162.2,155.7 159.7,154.6 164.5,152.2Z" fill="#2b83ba"/>
<path d="M278.8,134.1 278.3,134.5 274.3,135.3 270.7,135.6 269.1,135.9 272.1,135.9 267.9,136.9 265.1,137.4 261.3,138.8 258.1,139.1 256.8,139.4 252.2,139.7 253.9,139.9 252.6,140.3 253.0,141.1 250.9,141.8 248.1,142.3 246.6,143.1 244.0,143.7 243.8,144.1 246.4,144.1 246.0,144.5 240.8,145.7 237.4,145.2 232.6,145.5 230.5,145.3 227.7,145.2 228.7,144.2 232.0,143.7 232.7,142.3 233.7,142.2 236.9,143.0 236.2,141.8 234.1,141.5 236.1,140.7 239.2,140.3 240.4,139.6 239.2,138.9 239.6,138.0 243.4,138.1 244.3,138.3 247.2,137.7 244.4,137.4 239.2,137.6 237.4,137.0 237.1,136.3 236.1,135.8 236.5,135.3 239.0,134.9 240.6,134.9 243.8,134.6 246.4,134.1 248.1,134.2 248.9,134.6 251.1,133.8 253.1,133.5 255.8,133.3 260.0,133.3 260.5,133.5 264.7,133.2 267.6,133.3 270.4,133.4 274.0,133.5 276.6,133.7Z" fill="#2b83ba"/>
<path d="M221.3,143.9 222.4,144.5 225.3,144.5 225.8,145.2 224.6,146.0 226.0,146.4 226.4,146.9 228.4,147.0 230.5,147.1 233.4,146.7 236.7,146.5 239.0,146.7 240.0,147.4 239.5,148.3 238.1,148.8 235.4,149.2 233.6,149.0 228.8,149.3 225.6,149.3 223.3,149.1 219.9,148.4 220.5,147.3 221.4,146.3 220.7,145.5 217.9,145.2 216.9,144.6 218.4,143.8Z" fill="#2b83ba"/>
<path d="M229.2,136.9 231.9,137.1 234.6,137.2 238.5,137.9 238.3,139.1 239.4,139.6 236.7,140.2 232.4,141.6 229.6,141.8 226.8,141.5 226.2,140.7 227.0,140.1 228.8,139.5 226.1,139.6 225.3,139.0 225.5,138.2 227.5,137.4Z" fill="#2b83ba"/>
<path d="M181.5,147.7 186.4,145.7 188.6,145.1 191.9,145.8 193.1,147.0 195.5,147.2 195.9,145.2 198.2,144.5 199.5,144.7 198.7,145.7 198.5,146.4 200.1,146.1 201.7,146.1 200.8,147.1 198.7,148.1 193.0,148.4 188.0,149.3 185.6,149.3 186.2,148.7 190.5,147.8 186.9,147.9 183.3,148.0Z" fill="#2b83ba"/>
<path d="M215.5,168.3 215.2,169.4 216.3,169.0 216.8,169.6 218.2,170.4 219.8,171.1 219.3,172.2 220.7,172.0 221.5,172.7 219.4,173.5 217.0,172.9 216.7,171.9 214.1,173.2 210.8,174.3 211.2,172.9 208.6,173.2 210.9,172.0 212.3,170.3 214.4,168.1Z" fill="#2b83ba"/>
<path d="M205.3,150.5 206.8,150.9 209.8,150.7 209.6,151.3 207.2,152.2 208.7,153.2 206.6,155.1 203.2,155.9 201.8,155.7 201.5,154.9 199.0,153.3 199.8,152.5 202.7,152.9 202.3,151.5Z" fill="#2b83ba"/>
<path d="M214.4,152.7 211.3,154.3 209.5,154.2 210.3,152.3 211.4,151.3 213.0,150.5 215.2,149.8 218.4,149.9 220.9,150.5 216.7,152.3Z" fill="#2b83ba"/>
<path d="M214.7,144.7 214.8,145.6 213.7,146.6 211.3,148.1 208.5,148.3 207.2,148.0 208.6,146.8 205.9,147.0 207.7,145.4 209.2,145.5 212.3,144.8Z" fill="#2b83ba"/>
<path d="M188.3,144.3 186.2,145.0 184.6,145.1 180.5,146.0 177.6,146.3 176.1,145.9 180.9,144.4 185.8,143.1 188.2,143.1 190.6,142.8Z" fill="#2b83ba"/>
<path d="M197.1,159.9 199.2,159.3 201.2,158.3 202.4,159.0 203.1,159.3 203.2,159.7 203.5,160.6 201.9,161.4 200.1,160.7 198.5,160.9Z" fill="#2b83ba"/>
<path d="M241.9,152.0 241.7,152.5 240.0,152.5 238.3,152.4 236.3,152.7 235.9,152.6 235.1,151.5 235.8,150.8 236.7,150.7 240.1,150.9Z" fill="#2b83ba"/>
<path d="M210.7,139.7 213.3,140.0 216.3,140.6 215.7,142.3 213.6,142.1 212.1,141.5 208.9,141.4 211.1,140.8 209.9,140.5Z" fill="#2b83ba"/>
<path d="M222.6,140.7 221.9,142.0 219.2,142.4 218.6,142.0 218.8,141.3 219.7,140.5Z" fill="#2b83ba"/>
<path d="M215.1,147.3 217.6,146.8 218.4,148.1 216.7,148.9 214.5,148.8 213.3,148.2Z" fill="#2b83ba"/>
<path d="M196.4,141.6 201.7,141.5 201.1,142.2 198.6,142.7 196.2,143.3 194.9,142.6 196.9,142.0Z" fill="#2b83ba"/>
<path d="M253.4,202.9 251.8,204.4 249.8,206.6 251.4,205.8 252.6,206.3 251.6,207.1 253.1,207.9 254.3,207.3 256.0,208.0 254.8,209.9 256.4,209.4 256.3,210.8 256.5,212.3 255.1,214.6 254.1,214.8 252.8,214.2 253.9,212.2 253.4,211.8 250.5,214.0 249.2,214.0 251.0,212.7 249.3,212.1 247.0,212.3 243.1,212.2 243.1,211.4 244.6,210.6 243.8,209.9 246.1,208.3 249.4,204.4 251.1,202.9 253.2,202.0Z" fill="#2b83ba"/>
<path d="M108.3,204.2 110.0,204.7 110.9,205.1 112.6,205.4 112.9,207.4 114.2,208.5 114.1,209.9 112.8,210.3 110.3,209.0 110.3,208.2 109.1,207.3 109.2,206.6 107.5,206.1 107.7,204.7Z" fill="#2b83ba"/>
<path d="M105.5,195.8 106.3,196.0 108.2,195.9 105.3,198.7 105.4,200.6 104.6,200.6 104.4,199.5 104.6,198.4 104.2,197.6 104.8,196.5Z" fill="#2b83ba"/>
<path d="M234.4,206.5 235.2,206.3 237.6,206.9 239.3,207.9 239.2,208.4 238.2,208.4 235.8,207.6Z" fill="#2b83ba"/>
<path d="M233.0,213.9 234.6,215.1 236.6,215.1 235.3,216.3 232.9,216.0 231.9,214.6Z" fill="#2b83ba"/>
<path d="M76.2,186.5 77.4,186.6 77.4,187.3 74.5,188.5 71.7,189.4 71.4,188.8 72.3,187.7 74.9,186.8Z" fill="#abdda4"/>
<path d="M59.2,172.6 59.7,173.0 61.1,172.8 61.7,173.4 63.1,173.7 62.7,174.0 60.6,174.5 59.9,174.0 59.9,173.5 58.0,173.7 57.9,173.5Z" fill="#abdda4"/>
<path d="M59.1,180.6 59.8,180.8 58.6,181.8 57.1,182.1 56.2,181.0 58.4,180.6Z" fill="#abdda4"/>
<path d="M45.3,194.6 48.6,193.5 48.8,194.3 45.5,195.1Z" fill="#abdda4"/>
<path d="M111.6,185.9 112.1,186.8 110.2,188.8 110.4,190.2 111.0,191.4 111.0,192.9 108.7,194.3 107.6,193.2 108.1,191.2 107.1,190.7 108.0,188.3 107.6,186.8 109.1,185.9Z" fill="#abdda4"/>
<path d="M11.1,286.2 10.6,286.7 10.1,286.3 10.4,285.5 10.3,284.6 10.9,283.8 10.9,283.2 12.4,283.9 13.0,285.2Z" fill="#abdda4"/>
<path d="M9.5,281.5 10.6,281.4 11.0,281.9 10.0,282.4Z" fill="#abdda4"/>
<path d="M6.4,279.8 7.2,279.4 7.6,280.5 6.6,280.5Z" fill="#abdda4"/>
<path d="M3.4,278.2 4.4,278.1 4.2,278.9 3.3,278.8Z" fill="#abdda4"/>
<path d="M8.4,280.7 9.6,280.9 9.3,281.1 8.3,281.0Z" fill="#abdda4"/>
<path d="M178.5,275.5 180.4,275.8 182.2,275.8 184.1,276.7 184.8,277.6 187.0,277.3 187.8,277.9 189.5,279.5 190.8,280.7 191.5,280.7 192.8,281.2 192.6,281.9 194.1,282.0 195.7,283.1 195.4,283.7 193.9,284.1 192.3,284.2 190.9,284.0 187.6,284.2 189.2,282.8 188.4,282.2 186.9,281.9 186.2,281.1 185.9,279.7 184.6,279.8 182.6,279.0 182.0,278.5 179.1,278.1 178.4,277.6 179.3,276.9 177.2,276.8 175.3,278.2 174.4,278.2 174.0,278.9 172.8,279.2 171.9,278.9 173.2,278.1 173.7,277.2 174.9,276.5 176.2,276.0 177.9,275.8Z" fill="#d7191c"/>
<path d="M197.9,284.1 199.2,284.2 201.2,284.6 201.5,284.1 203.3,284.1 204.6,284.9 205.2,284.8 205.5,285.7 206.8,285.7 206.6,286.5 207.6,286.5 208.6,287.5 207.6,288.5 206.6,288.0 205.6,288.0 204.8,288.0 204.3,288.4 203.5,288.5 203.2,288.0 202.4,288.3 201.3,290.1 200.8,289.7 200.8,288.9 199.3,288.5 198.2,288.7 196.8,288.5 195.8,288.9 194.6,288.2 194.9,287.4 196.9,287.6 198.6,287.9 199.4,287.4 198.5,286.2 198.7,285.2 197.3,284.8Z" fill="#d7191c"/>
<path d="M187.6,287.8 189.1,288.0 190.2,288.7 190.5,289.3 188.9,289.5 188.2,289.8 187.0,289.5 185.7,288.5 186.1,287.9 187.0,287.8Z" fill="#d7191c"/>
<path d="M188.3,270.3 189.1,270.4 189.5,272.5 188.5,273.0 187.6,271.9Z" fill="#d7191c"/>
<path d="M189.6,266.5 189.4,266.4 187.3,267.0 189.4,266.2ZM190.1,266.6 191.6,266.6 190.8,268.5 190.6,268.1 190.8,266.9Z" fill="#d7191c"/>
<path d="M221.7,308.1 223.7,307.7 223.9,309.7 221.9,309.9 222.3,309.0Z" fill="#d7191c"/>
<path d="M222.8,293.4 224.0,293.2 223.7,294.3 222.9,294.3Z" fill="#d7191c"/>
<path d="M223.8,297.3 224.6,297.5 224.4,298.3 224.0,298.1Z" fill="#d7191c"/>
<path d="M224.0,299.4 224.4,299.5 224.2,300.1Z" fill="#d7191c"/>
<path d="M227.2,301.3 227.6,301.7 227.3,302.0Z" fill="#d7191c"/>
<path d="M223.4,295.3 223.8,295.7 223.5,296.2Z" fill="#d7191c"/>
<path d="M222.1,304.2 222.6,304.3 222.3,304.7Z" fill="#d7191c"/>
<path d="M223.4,301.2 223.8,301.5 223.5,301.7Z" fill="#d7191c"/>
<path d="M220.6,290.6 221.2,290.9 220.9,291.3Z" fill="#d7191c"/>
<path d="M222.8,291.3 223.2,291.5 222.9,291.7Z" fill="#d7191c"/>
<path d="M213.1,287.8 214.4,287.9 214.6,288.5 214.0,289.1 212.3,289.1 210.9,289.2 210.9,288.2 211.3,287.8Z" fill="url(#hatch)" stroke="#c4c4c4"/>
<path d="M352.1,206.0 353.4,205.2 354.5,204.1 354.6,203.6 355.2,203.1 356.8,203.1 357.7,202.6 358.2,202.1 356.8,202.6 355.0,202.2 353.5,202.1 353.1,201.4 354.2,200.9 355.4,200.1 355.5,198.9 354.2,199.1 355.1,198.4 354.5,197.6 356.9,197.9 357.6,197.5 357.7,196.3 358.0,195.6 356.5,194.9 357.6,193.8 355.9,194.2 354.0,194.5 353.8,193.7 354.6,192.6 354.2,191.3 353.4,191.6 352.8,192.9 352.6,191.2 352.9,190.0 351.7,189.5 352.6,188.4 352.5,187.4 353.5,185.7 354.2,184.9 356.0,185.0 357.8,184.8 356.2,186.6 355.7,187.5 357.3,187.1 359.7,187.1 360.1,187.5 359.6,188.4 358.8,189.7 358.2,190.3 358.6,190.5 357.4,191.2 358.7,191.2 359.7,191.7 360.4,192.4 360.8,193.7 361.3,194.6 362.7,195.4 363.3,195.9 363.1,196.9 363.7,197.1 364.2,198.4 363.7,198.9 364.5,198.7 366.0,198.9 366.9,199.9 366.6,200.9 366.1,201.4 365.3,201.7 364.9,202.4 366.3,202.7 366.2,203.4 365.4,203.9 364.0,204.2 361.9,204.2 361.3,204.1 359.5,204.6 358.6,204.7 357.5,204.4 356.6,204.6 356.2,205.6 355.2,205.2 353.4,206.1 353.1,206.3Z" fill="#d7191c"/>
<path d="M349.3,192.8 351.6,193.2 352.5,194.4 352.9,195.1 351.7,196.0 351.3,196.3 351.6,197.9 351.8,198.7 351.0,200.6 349.7,200.9 347.1,201.6 344.1,202.5 343.0,200.9 344.5,199.6 344.1,199.7 345.9,198.2 343.7,197.6 344.3,195.4 347.1,195.4 346.5,194.4 347.6,193.3Z" fill="#d7191c"/>
<path d="M324.7,166.5 326.4,167.5 326.4,168.7 328.2,168.2 328.4,167.3 331.7,168.1 332.0,167.2 333.4,167.2 335.6,166.4 336.5,167.1 338.3,166.6 337.6,168.1 339.8,168.7 339.7,169.8 337.8,171.2 335.2,172.0 331.9,172.8 330.2,173.5 327.6,173.2 323.3,172.6 324.7,171.8 324.3,170.7 321.4,170.0 324.7,169.6 324.8,169.0 320.9,168.7 322.3,167.3 323.5,166.8Z" fill="#2b83ba"/>
<path d="M378.8,140.5 380.0,138.9 382.9,138.7 385.7,138.5 388.6,138.6 390.2,139.4 394.8,140.5 391.4,141.4 391.1,142.9 388.8,145.0 386.0,143.9 383.9,143.1 383.9,142.0 380.4,141.2Z" fill="#2b83ba"/>
<path d="M389.5,138.1 392.6,137.8 396.2,137.8 399.1,138.1 402.1,138.3 400.4,139.5 397.5,139.5 394.6,139.4 390.8,139.0Z" fill="#2b83ba"/>
<path d="M395.2,141.8 397.9,142.0 399.9,142.7 397.9,143.5 395.6,143.1Z" fill="#2b83ba"/>
<path d="M447.0,155.0 447.4,152.6 448.0,150.8 449.9,148.7 450.7,147.5 455.0,145.9 457.8,145.6 460.7,145.3 463.6,144.7 466.6,144.2 467.0,145.7 462.5,146.7 458.6,147.7 455.1,149.5 454.0,151.6 452.7,153.5 454.5,155.4 457.9,157.1 453.9,157.3 451.2,156.9Z" fill="#d7191c"/>
<path d="M494.6,136.9 497.3,136.3 502.1,137.2 507.4,138.8 511.1,139.3 514.8,139.7 518.5,141.6 515.8,141.9 513.1,142.2 509.0,140.8 503.2,140.3 498.9,139.2 494.7,138.1Z" fill="#d7191c"/>
<path d="M575.5,147.3 575.3,145.8 579.6,146.1 586.3,146.9 586.0,148.1 581.2,148.5 578.1,148.5Z" fill="#d7191c"/>
<path d="M589.3,147.3 592.7,147.5 596.2,147.7 596.8,148.5 591.6,148.2Z" fill="#d7191c"/>
<path d="M585.5,151.4 586.5,150.5 590.6,151.1 590.1,151.8Z" fill="#d7191c"/>
<path d="M429.7,137.9 432.0,137.2 434.6,136.8 437.2,137.4 434.2,138.2Z" fill="#d7191c"/>
<path d="M655.7,156.5 658.4,156.8 656.1,155.4 654.8,155.4Z" fill="#d7191c"/>
<path d="M70.9,155.4 74.1,155.8 72.7,156.6 68.6,156.8Z" fill="#d7191c"/>
<path d="M639.3,195.3 644.1,199.2 646.7,201.7 649.1,204.2 654.8,208.8 651.1,207.9 652.6,211.6 656.4,214.1 657.7,215.9 655.0,214.4 655.2,216.4 653.2,214.2 651.6,211.7 649.4,209.0 648.5,207.1 645.7,203.6 642.6,201.2 639.8,197.9 640.6,196.7 638.8,195.6Z" fill="#d7191c"/>
<path d="M445.1,159.7 447.6,160.6 445.8,161.5 444.1,160.6Z" fill="#d7191c"/>
<path d="M661.4,228.1 663.0,230.4 664.8,231.9 665.9,233.8 665.3,236.4 666.8,239.1 667.1,241.2 668.2,242.5 667.8,244.3 667.3,245.0 666.4,244.1 665.6,245.6 664.2,245.8 661.9,245.8 661.6,246.6 660.7,247.5 660.2,248.8 658.2,247.7 657.3,245.8 656.8,245.6 654.9,245.6 654.8,246.0 651.9,246.6 651.7,247.6 649.1,247.5 648.5,246.4 650.2,245.4 650.9,243.6 654.9,242.8 657.6,243.4 657.6,242.3 657.8,239.3 658.6,238.2 659.1,239.9 661.3,237.3 662.1,236.4 661.7,233.8 660.5,231.7 659.9,230.2 659.5,228.8Z" fill="#d7191c"/>
<path d="M649.0,247.5 652.0,249.6 652.6,254.0 651.5,255.0 650.0,254.0 649.7,251.8 649.1,250.9 648.0,251.0 646.4,249.2 648.1,248.4Z" fill="#d7191c"/>
<path d="M652.6,248.8 653.2,247.2 655.0,246.4 656.9,247.0 657.5,247.9 657.0,249.4 655.8,248.6 654.9,249.2 654.9,250.7 653.2,250.1Z" fill="#d7191c"/>
<path d="M655.6,217.6 659.9,220.1 663.9,221.5 664.5,220.4 667.1,223.3 664.4,224.1 664.3,226.6 659.7,224.8 660.4,227.6 658.2,227.7 656.2,225.2 655.9,223.1 658.1,223.0 656.3,219.5Z" fill="#d7191c"/>
<path d="M635.6,270.0 636.8,270.8 636.7,274.7 636.3,276.5 635.8,278.8 634.1,276.5 633.5,274.6 634.3,272.0Z" fill="#2b83ba"/>
<path d="M396.9,236.3 396.4,239.3 396.1,240.4 394.4,239.5 393.3,239.3 390.2,238.0 390.4,236.7 393.0,236.8Z" fill="#d7191c"/>
<path d="M382.9,228.6 384.2,230.4 384.1,233.8 383.1,233.7 382.3,234.6 381.5,233.9 381.3,230.7 380.7,229.3 381.9,229.4Z" fill="#d7191c"/>
<path d="M384.7,192.1 384.9,191.9 385.9,191.3 387.0,191.0 387.6,191.9 386.9,192.9 386.7,193.8 386.0,193.3 385.0,193.0Z" fill="#d7191c"/>
<path d="M382.3,192.4 383.6,192.3 384.2,192.9 383.9,193.5 382.9,193.5 382.4,193.0Z" fill="#d7191c"/>
<path d="M384.7,194.0 386.3,194.3 386.3,194.6 384.7,194.3Z" fill="#d7191c"/>
<path d="M397.6,188.2 398.7,186.6 399.7,186.6 398.9,188.0 398.1,189.0Z" fill="#d7191c"/>
<path d="M404.3,185.7 404.9,185.0 406.9,184.9 406.5,185.5 405.1,186.3Z" fill="#d7191c"/>
<path d="M485.6,303.0 488.2,303.3 487.0,303.9 485.9,303.7Z" fill="#d7191c"/>
<path d="M493.1,388.2 494.1,388.4 493.9,389.3 493.1,389.3Z" fill="#d7191c"/>
<path d="M462.5,365.7 463.1,367.0 462.7,366.9Z" fill="#d7191c"/>
<path d="M394.6,242.3 395.0,242.5 394.6,242.7Z" fill="#d7191c"/>
<path d="M309.3,296.1 310.0,296.9 310.0,297.1 309.3,296.9Z" fill="#d7191c"/>
<path d="M306.0,291.4 306.7,291.3 306.7,291.8 306.0,291.8Z" fill="#d7191c"/>
<path d="M311.1,293.8 311.8,293.8 311.7,294.3 311.2,294.3Z" fill="#d7191c"/>
<path d="M378.5,335.1 379.0,335.2 378.7,335.9Z" fill="#d7191c"/>
<path d="M383.5,226.2 383.0,228.1 382.0,227.6 381.4,225.9 381.8,224.9 383.1,224.0Z" fill="#2b83ba"/>
<path d="M414.8,242.9 416.1,243.8 417.7,243.7 419.3,243.8 420.5,244.0 420.3,244.7 417.2,245.0 417.2,244.5 414.5,244.0Z" fill="#2b83ba"/>
<path d="M433.5,244.5 434.6,244.3 434.8,243.7 436.5,243.8 438.4,243.0 437.0,244.1 437.3,244.6 435.3,245.9 434.2,245.5Z" fill="#2b83ba"/>
<path d="M412.6,234.5 413.9,234.9 415.3,236.3 416.2,236.9 415.6,236.9 413.8,235.6Z" fill="#2b83ba"/>
<path d="M344.2,263.9 344.1,268.2 336.7,268.2 336.5,274.9 334.2,276.0 334.0,276.7 334.2,280.4 325.2,280.4 325.0,281.3 325.0,281.2 325.1,280.2 325.2,278.9 326.1,278.1 326.8,276.8 326.8,276.0 327.6,274.2 328.9,272.4 329.6,272.1 330.3,270.6 330.4,269.2 331.3,267.6 332.7,266.6 334.3,264.0 334.3,263.9 334.4,263.9 339.3,263.9Z" fill="url(#hatch)" stroke="#c4c4c4"/>
</g>
<g id="borders" fill="none" stroke="#6e6e6e" stroke-width="0.55" stroke-opacity="0.95" stroke-linejoin="round">
<path d="M358.7,244.5 359.6,245.5 359.8,248.1 360.8,252.3 356.9,253.1 355.5,253.5 355.5,255.4 352.7,256.5 352.0,257.9 349.1,258.9 347.8,258.8 344.3,261.2 344.2,263.9"/>
<path d="M382.0,239.7 381.4,241.1 381.7,244.0 381.3,245.6 380.0,247.1 379.9,249.3 381.9,250.6 383.4,252.3 384.6,257.1"/>
<path d="M388.7,249.6 388.6,251.5 386.9,253.1 385.7,255.3 384.6,257.1"/>
<path d="M384.6,257.1 385.2,259.3 385.6,266.9 384.5,267.9 386.6,272.4 389.4,273.2 390.5,274.7"/>
<path d="M390.5,274.7 386.2,277.6 381.8,280.4 377.5,283.2 373.1,286.1 371.0,286.5 370.7,284.4 367.6,282.3 366.1,281.0 361.6,277.6 357.1,274.2 352.7,270.8 348.4,267.8 344.2,264.8"/>
<path d="M352.5,270.9 349.0,270.9 349.5,276.5 350.0,282.2 350.5,287.8 351.0,293.4 351.4,293.8 350.9,295.6 346.3,295.6 341.7,295.6 339.2,296.5 337.6,295.8 336.5,297.4 335.7,297.9"/>
<path d="M325.9,294.0 329.1,292.7 331.4,293.5 333.0,294.3 334.3,296.1 335.7,297.9 335.8,302.1 337.2,303.7"/>
<path d="M337.2,303.7 332.2,303.1 328.1,303.0 325.3,303.7"/>
<path d="M325.4,300.5 329.0,299.8 332.0,300.8 329.2,301.2 325.1,301.7"/>
<path d="M332.2,303.1 332.1,305.2 329.8,306.0 328.9,307.3"/>
<path d="M337.2,303.7 340.2,305.1 342.7,303.9 344.3,306.3 345.2,309.4"/>
<path d="M333.1,312.5 335.1,310.3 338.1,309.9 339.2,311.8 340.1,314.1 337.3,318.0"/>
<path d="M340.1,314.1 341.9,316.4 344.1,316.2 345.4,313.8 345.2,309.4"/>
<path d="M344.1,316.2 346.0,321.1 346.2,324.7"/>
<path d="M345.2,309.4 349.7,309.4 350.9,308.9 352.5,310.4 357.2,310.7"/>
<path d="M356.8,323.0 356.1,319.6 357.1,315.4 357.2,310.7 356.9,307.3 363.2,307.1"/>
<path d="M350.9,308.9 351.6,305.5 353.4,303.4 355.5,301.3 358.9,298.2 362.8,297.1 364.0,296.9"/>
<path d="M364.0,296.9 366.7,296.1 371.7,295.3 373.2,291.9 373.1,286.1"/>
<path d="M364.0,296.9 364.4,299.5 365.8,301.3 368.5,303.1 369.0,305.0"/>
<path d="M363.2,307.1 364.4,309.4 364.4,314.4 364.9,316.7 365.1,319.6 366.3,320.1"/>
<path d="M363.2,307.1 365.6,307.3 366.7,306.1 369.0,305.0 371.7,305.5"/>
<path d="M365.6,307.3 366.7,310.4 367.3,312.5 367.3,318.0 367.6,319.8"/>
<path d="M371.7,305.5 372.0,309.7 369.8,312.5 369.7,313.8 369.8,319.3"/>
<path d="M371.7,305.5 372.0,303.3 372.9,300.8 375.8,299.9 379.0,301.8 381.3,301.2 384.1,302.5 386.6,301.5 391.6,302.0 394.6,300.3"/>
<path d="M394.6,300.3 394.3,298.5 395.4,295.1 398.2,292.7 398.2,289.3 399.0,284.0 399.4,282.8 397.6,280.5 397.3,276.0"/>
<path d="M390.5,274.7 395.4,277.3 397.3,276.0 402.4,278.3 407.5,280.6 412.7,282.9 417.8,285.2"/>
<path d="M418.5,253.6 418.9,259.9 419.3,266.1 419.6,272.4 419.9,278.6 420.1,283.8 417.8,283.8 417.8,285.2 418.2,295.1 415.9,295.1 414.4,298.7 414.2,302.1 413.5,303.1 415.0,303.9 414.5,305.5 416.0,307.3"/>
<path d="M419.9,278.6 424.6,278.6 429.3,278.6 434.1,278.6 434.5,278.1 434.4,278.6 440.5,278.6 446.7,278.6"/>
<path d="M416.0,307.3 413.2,308.5 409.4,312.5 407.1,312.4 406.9,313.6 402.5,315.4 400.9,315.8 399.1,316.4"/>
<path d="M399.1,316.4 397.9,313.3 395.6,311.0 398.9,309.9 397.7,307.3 396.7,302.4 394.6,300.3"/>
<path d="M396.0,303.4 396.6,305.8 394.0,309.5 392.8,313.3 390.6,317.2 388.9,318.7 386.7,317.6 384.8,319.2 383.1,323.5"/>
<path d="M398.6,316.7 396.8,319.8 396.9,323.7 398.9,327.4 400.3,330.1"/>
<path d="M386.1,330.0 393.4,330.1 396.4,330.3 400.1,331.4 400.3,330.1"/>
<path d="M386.1,333.1 389.5,333.3 389.5,330.1"/>
<path d="M394.1,330.3 394.1,332.6 396.4,332.9 395.4,335.9 396.7,337.3 396.7,339.4 396.4,341.2 393.7,342.3 392.5,341.1 392.3,342.3 390.7,342.5 390.0,343.3 390.8,345.0 389.0,346.4"/>
<path d="M400.3,330.1 401.5,327.7 402.9,326.4 406.0,326.9"/>
<path d="M406.0,326.9 405.2,329.7 404.7,331.4 404.5,335.2 403.8,338.0 401.3,340.6 400.3,345.1 398.5,347.3 397.1,349.0 396.1,347.7 394.8,347.7 393.4,348.5 392.5,349.0 392.1,350.9 391.6,351.1"/>
<path d="M391.1,349.0 392.5,347.6 393.4,348.5"/>
<path d="M391.8,351.6 394.3,351.3 401.0,351.4 403.7,357.0 407.1,356.9 408.1,354.6 410.6,354.3 413.5,355.0 413.7,360.8 414.4,364.8 418.5,364.6 418.5,365.3"/>
<path d="M418.5,365.3 418.4,369.9 413.8,369.9 413.6,378.2 416.2,381.6"/>
<path d="M390.2,381.1 394.2,380.3 395.8,381.2 400.6,381.3 405.4,381.4 412.1,382.8 416.2,381.6 419.6,381.6 420.8,382.3"/>
<path d="M411.1,383.7 416.6,382.9 418.4,382.9 420.8,382.3"/>
<path d="M411.1,383.7 410.8,393.4 408.6,393.4 408.3,400.6 407.9,410.1 405.6,411.5 403.1,411.2 402.1,410.8 400.1,410.6"/>
<path d="M408.3,400.7 410.0,403.8 410.1,406.0 412.9,404.6 415.0,402.0 419.4,403.0 421.6,400.4 423.7,399.2 424.4,397.4 426.5,395.6 429.8,393.6"/>
<path d="M429.8,393.6 426.7,392.1 426.1,389.5 422.8,386.3 420.8,382.3"/>
<path d="M420.8,382.3 424.8,382.8 426.2,381.1 428.4,378.9 429.4,377.9 430.7,376.8 432.5,376.4"/>
<path d="M432.5,376.4 432.4,374.6 439.3,372.5"/>
<path d="M439.3,372.5 438.2,371.7 439.0,369.4 439.7,368.3 439.3,366.2 439.8,364.2 440.3,363.4 439.6,361.3 438.6,360.1"/>
<path d="M438.6,360.1 435.1,358.4 434.1,357.8"/>
<path d="M434.1,357.8 429.4,358.2 428.9,360.0 428.5,366.8 430.6,368.2 431.4,370.5 429.5,370.5 427.9,368.1 425.8,366.2 422.4,366.8 421.7,365.5 418.5,364.9"/>
<path d="M432.5,376.4 432.6,377.5 435.5,377.9 438.2,379.5 438.1,382.9 437.3,386.6 437.4,388.9 436.3,391.0 433.8,394.0"/>
<path d="M429.8,393.6 433.8,394.0 435.1,399.6 434.6,402.5 435.0,404.6 435.1,405.7 436.8,405.8"/>
<path d="M433.5,403.0 435.2,403.8 435.1,405.7 434.6,406.9 433.2,407.2 432.0,405.7 432.0,404.8 432.7,403.8 433.5,403.0"/>
<path d="M427.8,411.5 428.5,412.3 427.7,413.5 427.3,414.4 426.0,414.8 425.5,415.7 424.7,415.9 423.2,413.9 424.5,412.2 425.8,411.2 426.9,410.7 427.8,411.5"/>
<path d="M439.3,372.5 440.6,373.7 442.1,374.1 442.2,375.1 441.7,376.4 441.8,378.2 443.1,379.8 444.0,378.0 444.9,377.5 445.0,374.1 444.0,372.2 443.2,371.3 442.4,371.5 442.0,368.1 442.6,366.0 442.1,362.5 441.4,361.3 440.9,360.5 438.6,360.1"/>
<path d="M442.6,366.0 444.3,365.9 447.1,366.5 449.2,366.1 451.6,365.5 454.0,364.4 456.1,363.4"/>
<path d="M453.7,348.3 450.4,345.6 450.3,344.1 446.1,341.4 442.0,338.8 441.6,338.5"/>
<path d="M441.6,338.5 441.6,335.7 442.3,334.7 443.3,332.9 444.2,331.0 443.1,328.0 442.9,326.7 441.7,324.9"/>
<path d="M441.7,324.9 444.7,321.7 445.9,323.5 446.7,324.4 448.3,324.4 451.2,326.6 453.0,326.9 454.5,327.1 455.2,326.0 457.3,324.9 458.2,325.8 459.8,325.8"/>
<path d="M459.8,325.8 457.9,328.7 457.9,338.2 459.3,340.4"/>
<path d="M459.8,325.8 460.5,324.9 461.9,324.9 463.9,323.1 466.9,323.0 470.1,319.1 473.3,315.1 471.3,315.1 463.8,312.0 462.8,311.1 462.0,309.9 461.5,307.4"/>
<path d="M462.1,302.9 460.4,303.3 459.6,304.4 458.8,305.6 459.1,307.2 460.4,307.2 461.5,307.4"/>
<path d="M460.4,303.3 459.5,302.5 458.5,300.9 457.5,300.1 456.9,299.2 454.9,298.2 453.3,298.1 452.7,297.5 451.4,298.2 449.9,297.0 449.3,299.0 446.7,298.5"/>
<path d="M446.7,298.5 446.3,297.4 447.1,293.5 447.3,291.8 447.9,291.0 449.6,290.5 450.7,289.1"/>
<path d="M446.7,298.5 446.3,300.7 445.5,303.1 444.2,304.4 443.3,306.5 443.1,307.6 442.0,308.2 441.4,311.0 441.5,313.3 441.2,314.1 439.9,314.2 439.2,315.7 440.6,315.9 441.8,317.1 442.2,318.1 443.2,318.8 444.7,321.7"/>
<path d="M418.4,313.6 420.4,310.4 422.6,308.9 424.3,311.1 427.7,311.5 430.0,311.2 432.3,309.1 434.2,310.7 435.4,310.4 437.7,307.1 437.0,304.8 439.5,304.2 439.6,308.1 441.3,311.2"/>
<path d="M416.0,307.3 417.5,309.7 417.2,312.5 418.4,313.6 420.0,314.6 421.1,315.7 421.2,316.4 422.8,317.7 423.7,318.9 424.3,320.5 426.0,321.5 426.5,322.4"/>
<path d="M426.5,322.4 421.7,322.4 419.6,322.7 416.0,323.7 415.0,325.4 411.6,324.8 408.4,322.8 406.2,325.0 406.0,326.9"/>
<path d="M426.5,322.4 427.9,324.5 429.0,324.8 430.6,324.5 431.8,324.0 434.5,326.9"/>
<path d="M434.5,326.9 436.9,326.7 438.8,326.1 440.4,326.1 441.7,324.9"/>
<path d="M434.5,326.9 434.3,329.9 435.2,330.3 434.5,331.2 433.6,331.8 432.8,333.3 432.4,334.4 432.1,336.5 431.7,337.6 431.7,339.5"/>
<path d="M431.7,339.5 432.1,339.8 433.5,339.0 434.3,338.6 441.6,338.5"/>
<path d="M433.5,339.0 434.4,340.4 434.3,342.0 433.6,342.3 432.5,342.1 431.8,343.6 430.3,343.4 430.5,342.0 430.8,341.7 431.0,340.2 431.7,339.5"/>
<path d="M433.6,342.3 433.8,343.3 434.3,344.0 434.3,344.7 433.7,345.3 432.8,346.7 431.9,347.6 431.0,347.7 430.9,344.6 430.3,343.4"/>
<path d="M431.0,347.7 431.1,351.4 431.5,352.9 432.9,354.5 434.1,357.8"/>
<path d="M441.4,242.4 442.8,241.5 442.4,240.1 443.5,240.4 445.8,239.8 448.7,240.3 451.1,239.3 454.6,239.0 459.9,239.1"/>
<path d="M459.9,239.1 458.2,236.9 458.5,236.2 457.4,233.3 458.7,232.5 456.0,231.1 455.8,228.9 455.5,228.9 453.2,227.6 451.0,227.9"/>
<path d="M446.8,222.9 448.7,223.0 452.0,223.5 455.0,224.6 455.5,225.2 458.7,225.3 459.6,226.3 461.0,227.0 461.7,227.0 463.4,228.6 464.4,228.8 464.6,228.1 465.7,227.1"/>
<path d="M455.5,228.9 458.3,228.5 458.7,228.1 460.5,228.9 461.7,229.0 461.9,228.6 460.6,227.3 461.0,227.0"/>
<path d="M458.3,228.5 459.0,229.2 459.8,229.7 459.5,230.3 460.8,231.2 460.3,232.0 461.4,232.6 462.5,233.2 462.8,235.0"/>
<path d="M458.7,232.5 459.1,232.4 459.9,233.2 460.9,233.2 461.0,233.6 462.1,235.0 460.5,234.7 459.2,233.4 458.7,232.5"/>
<path d="M462.1,235.0 462.8,235.0 465.0,233.0 465.7,232.8 466.5,233.6 466.0,234.9 467.7,236.3 468.2,236.2"/>
<path d="M454.6,239.0 453.8,240.6 452.7,241.2 453.2,243.0 452.7,246.3 448.3,248.9 444.3,251.8 441.7,250.7"/>
<path d="M441.8,245.6 442.8,245.8 443.2,246.8 442.2,247.9 441.8,249.2"/>
<path d="M448.3,248.9 449.6,252.2 449.2,252.6 444.9,253.9 447.4,256.5 446.7,256.9 446.4,257.8 444.8,258.2 444.3,259.1 443.4,259.9 440.9,259.5"/>
<path d="M441.5,251.5 441.6,253.1 441.5,254.9 441.0,258.9"/>
<path d="M449.6,252.2 452.3,252.8 455.8,254.6 462.6,259.9 466.7,260.1 468.7,260.4 469.4,261.6 471.0,261.6"/>
<path d="M466.7,260.1 468.1,257.6 469.5,257.8"/>
<path d="M459.9,239.1 461.7,242.1 463.3,242.9 463.7,244.5 462.7,245.4 462.5,247.5 464.4,250.0 467.3,251.4 468.7,253.3 468.6,255.2 469.3,255.2 469.5,256.6 470.9,257.9"/>
<path d="M460.5,292.3 461.8,292.6 461.5,291.4 462.1,290.1 463.0,290.9 466.2,290.5 468.8,291.0 470.4,291.8 471.4,291.4 472.9,288.7 474.8,287.5 481.3,286.5 484.3,292.6"/>
<path d="M481.3,286.5 487.9,283.8 489.0,278.6 487.8,276.8 481.9,276.2 480.5,276.0 479.4,273.4 479.3,272.8"/>
<path d="M489.0,278.6 489.2,273.0 488.8,272.8 489.9,271.1"/>
<path d="M477.4,271.5 478.6,272.1"/>
<path d="M479.4,239.0 481.3,238.5 482.5,237.1 484.0,237.1 484.8,236.7 486.4,236.8 489.1,238.2 490.8,238.5 493.8,240.7 495.3,240.8 496.0,243.0"/>
<path d="M496.0,243.0 495.8,246.3 495.7,248.1 496.6,248.5 496.0,250.0 497.1,252.0 497.6,253.7 499.3,254.1 499.8,255.8 498.1,258.2"/>
<path d="M498.1,258.2 499.5,259.6 500.6,261.2 503.0,262.3 503.3,264.6 504.5,265.1 504.8,266.2 501.7,267.6 501.3,270.6"/>
<path d="M498.1,258.2 502.1,259.6 504.3,259.2 505.6,259.5 506.0,258.9 507.6,259.2 510.3,258.0 510.0,255.8 510.9,254.4 512.6,254.4 512.6,253.6 514.2,253.3 515.2,253.6 515.8,252.8 515.3,251.3 516.0,249.7 517.1,249.0 516.0,247.3 518.1,247.3 518.4,246.4 518.0,245.4 518.9,244.3 518.3,243.0 517.5,242.0 518.5,240.8 520.7,240.3 523.0,239.9 524.1,239.5 525.2,239.1 527.2,240.4 528.3,242.4 532.1,243.4"/>
<path d="M496.0,243.0 498.5,244.1 500.1,243.7 500.3,242.5 501.9,242.1 502.9,241.4 502.9,239.3 504.6,238.8 504.7,237.8 505.8,238.5 506.5,238.6 507.7,238.6 509.5,239.1 510.2,239.5 511.5,238.6 512.4,239.1 512.7,238.0 514.0,238.0 514.2,237.6 514.3,236.5 514.9,235.6 516.3,236.3 516.3,237.1 516.9,237.2 517.3,239.4 518.4,240.2 519.0,239.7 519.9,239.4 520.9,238.2 522.4,238.5 524.7,238.5 524.1,239.5"/>
<path d="M506.5,238.6 506.2,237.1 503.0,235.9 500.4,234.6 498.7,233.4 495.8,231.6 494.1,228.9 493.3,228.5 491.0,228.6 490.1,228.0 489.4,226.1 486.2,224.6 484.8,226.2 483.2,227.0 483.9,228.4 481.5,228.4"/>
<path d="M473.9,227.1 474.7,226.3 476.9,225.8 478.5,226.4 480.4,228.5 481.5,228.4 479.0,218.9 483.8,217.3 490.0,220.4 492.6,222.7 495.0,222.3 498.5,222.1 501.6,224.0 502.1,226.6 503.2,226.6 504.2,228.8 507.0,228.8 507.9,230.1 508.7,230.1 509.0,228.1 511.3,226.3 512.3,225.9"/>
<path d="M512.3,225.9 512.5,224.8 513.7,224.4 517.4,225.3 517.2,223.7 518.2,223.2 521.6,224.2 522.2,224.0 525.7,224.1 529.0,224.4 530.3,225.3 531.7,225.7"/>
<path d="M531.7,225.7 531.6,226.3 528.8,227.6 528.5,228.6 525.9,229.0 525.6,230.6 523.2,230.3 522.0,230.8 520.2,232.0 520.8,232.6 520.4,233.2 521.6,235.6 522.2,235.4 523.6,235.9 523.9,236.9 524.7,238.5"/>
<path d="M520.4,233.2 516.4,233.6 513.6,232.8 511.3,232.9 511.1,231.5 513.5,231.9 514.0,231.1 515.7,231.4 517.9,229.5 514.9,228.1 513.6,228.8 511.8,227.9 513.0,226.2 512.3,225.9"/>
<path d="M509.5,239.1 510.0,236.5 509.1,234.6 507.3,233.9 507.5,232.8 509.3,232.9 509.9,231.5 510.1,229.8 512.7,229.3 512.7,230.4 513.2,231.2 514.0,231.1"/>
<path d="M531.7,225.7 531.1,224.2 532.2,223.5 528.6,219.1 532.4,218.1 533.1,217.4 532.8,212.8 537.1,213.7 537.8,212.6 536.7,210.1 538.3,209.8 539.1,208.2"/>
<path d="M539.1,208.2 537.3,206.5 534.9,206.9 533.5,205.9 531.9,205.4 530.2,203.9 529.0,203.5 526.4,204.1 522.9,202.6 522.6,204.0 515.1,197.6 511.7,195.6 512.0,194.9 508.3,197.2 506.5,197.4 506.0,196.0 503.1,195.1 501.4,195.8 499.6,193.3 495.9,192.7 494.6,193.8 490.2,194.6 489.6,195.3 482.7,196.1 482.1,197.0 484.1,198.6 482.5,199.4 483.8,201.6 485.5,203.0 485.4,204.1 482.6,204.0 482.3,204.7 479.3,203.5 476.2,203.5 474.4,204.6 471.7,203.5 466.9,201.9 463.7,201.9 460.4,204.6 460.8,206.5 458.3,205.0 457.4,207.8 458.1,208.3 457.4,210.2 459.5,212.0 461.0,211.8 462.7,213.5 462.9,214.9 464.0,215.3"/>
<path d="M539.1,208.2 539.8,207.9 541.7,207.5 544.4,205.2 546.9,204.1 549.0,204.9 551.0,204.9 553.0,206.1 555.0,206.1 558.3,206.8 559.4,205.1 557.7,203.6 558.2,201.0 561.0,202.0 563.0,202.4 565.7,203.0 567.2,204.9 570.7,205.9 572.2,205.4 574.6,205.1 576.8,205.5 579.4,206.6 581.5,207.9 583.3,207.9 586.0,208.3 587.5,207.6 589.9,207.3 591.7,205.5 593.1,205.8 594.7,206.6 597.0,206.4"/>
<path d="M539.8,207.9 541.1,209.7 543.5,211.1 546.8,212.0 549.1,214.0 549.7,217.1 550.9,218.1 553.6,218.6 556.5,218.9 559.7,220.5 561.1,220.8 563.1,223.2 565.0,224.6 567.3,224.6 571.9,225.3 574.6,224.9 576.8,225.3 580.6,226.8 583.1,226.8 584.4,227.6 586.3,226.2 589.2,225.3 592.3,225.3 594.3,224.4 595.1,223.0 596.1,222.1 595.3,221.3 594.1,220.3 594.3,218.6 595.6,218.9 598.0,219.4 599.3,218.0 601.9,216.9 602.4,215.3 603.4,214.6 606.2,214.2 607.9,214.5 607.6,213.6 604.7,211.8 602.6,211.1 601.6,212.0 599.4,211.6 598.4,211.8 597.3,210.8 597.2,208.3 597.0,206.4"/>
<path d="M597.0,206.4 600.0,207.4 601.7,205.8 601.0,204.6 600.9,202.0 601.5,201.2 600.5,199.9 598.9,199.2 599.6,198.0 601.6,197.5 604.2,197.5 607.7,198.2 610.1,199.1 613.2,201.6 614.8,202.7 616.6,204.2 619.1,206.8 623.2,207.5 626.8,209.3 629.3,211.7 632.3,211.7 633.3,210.7 636.2,209.9 636.7,212.2 636.6,213.2 637.8,216.0 638.0,218.5 635.3,218.1 634.1,219.0 636.0,221.2 637.5,224.1 636.5,224.2 637.3,225.5"/>
<path d="M579.9,262.3 582.2,263.6 583.4,264.3 583.8,266.2 584.1,268.5 582.4,270.6 582.7,273.7 585.0,273.3 586.0,275.6 587.5,276.2 587.2,278.4 589.1,279.3 590.0,279.8 591.9,280.1 592.1,280.7 593.4,280.9 592.5,277.9 593.6,277.5"/>
<path d="M591.9,280.1 590.2,281.8 589.8,282.8 588.6,283.3 587.5,284.5 585.9,284.6 585.3,287.4 584.4,287.9 585.8,290.2 587.5,292.1 588.6,293.8 588.1,296.1 587.4,296.6 588.1,297.9 589.8,299.9 590.2,301.5 590.3,302.6 591.5,305.0 590.4,307.4 589.5,310.1"/>
<path d="M589.8,282.8 590.9,283.6 591.3,285.2 592.9,285.3 592.7,288.0 593.1,290.4 595.2,288.8 596.0,289.2 597.3,289.2 597.6,288.3 599.4,288.4 601.4,290.5 602.0,293.1 604.1,295.5 604.3,297.7 603.6,298.8 601.5,298.5 598.6,298.8 597.4,301.1 598.3,304.2"/>
<path d="M603.6,298.8 605.7,299.8 606.5,298.1 608.7,299.0 608.8,297.7"/>
<path d="M593.6,319.2 593.9,318.7 595.9,319.8 596.1,321.1 597.6,320.9 598.3,319.8"/>
<path d="M616.0,330.8 616.5,332.5 618.0,334.0 619.5,333.4 621.0,333.7 622.3,332.3 623.4,332.1 625.6,332.9 627.4,332.2 628.6,328.7 629.4,327.8 630.1,324.8 632.7,324.8 634.8,325.2"/>
<path d="M688.1,342.8 687.9,348.4 687.5,354.0 687.2,354.0 687.5,354.3 687.0,359.7"/>
<path d="M635.1,237.1 635.5,236.2 637.8,235.4"/>
<path d="M414.8,180.3 416.2,178.7 419.5,176.0 419.9,174.8 416.9,173.2 417.2,171.7 415.2,169.9 415.9,168.0 413.3,165.4 414.5,163.7 411.5,162.3 411.4,160.7"/>
<path d="M405.4,168.0 404.9,167.5 404.1,166.6 403.4,163.1 400.5,161.7 398.0,160.6"/>
<path d="M415.3,182.8 414.5,184.6 415.5,186.8 416.0,188.0 416.3,189.4 417.2,190.8"/>
<path d="M409.2,186.6 410.6,186.5 411.5,186.7 413.3,187.5 414.9,187.7 415.5,186.8"/>
<path d="M403.6,191.0 405.7,190.3 409.0,190.6 410.7,190.3 411.1,190.8 412.2,191.0 414.2,192.2 415.3,191.7 417.2,190.8"/>
<path d="M417.2,190.8 419.3,191.4 419.6,192.1 420.6,191.7 422.6,192.3 423.0,193.4 422.7,194.2 424.3,195.8 425.2,196.3 425.2,196.6 426.5,197.1 427.2,197.7 426.6,198.2 425.0,198.2 424.7,198.5 425.3,199.2 426.1,200.9"/>
<path d="M426.1,200.9 426.8,201.0 427.2,200.4 427.8,200.5 429.8,200.2 431.4,201.7 431.0,202.2 431.3,203.0 432.9,203.1 433.9,204.2 433.9,204.6 436.6,205.5 438.1,205.1 439.5,206.4 440.7,206.3 443.8,207.1 444.1,207.9 443.4,209.2 444.2,210.6 444.1,211.4 442.1,211.6 441.2,212.3 441.3,213.5"/>
<path d="M414.2,192.2 414.6,193.3 413.1,194.0 412.9,195.4 411.0,196.4 409.1,196.4 408.5,195.6 407.5,195.3 407.2,194.6 407.3,194.0 406.4,193.7 404.3,193.2"/>
<path d="M407.5,195.3 403.9,195.4 401.5,195.0"/>
<path d="M409.1,196.4 409.4,197.5 410.0,198.4 410.1,199.4 409.0,199.9 409.8,201.1 410.0,202.1 411.3,204.4 411.1,205.1 410.3,205.4 408.6,207.4 409.4,208.5 408.9,208.4"/>
<path d="M408.9,208.4 406.8,207.5 405.5,207.8 404.4,207.5 403.4,208.2 402.2,207.3 401.4,207.5 401.3,207.4 400.3,206.1 398.8,206.0 398.5,205.2 397.1,205.0 396.8,205.6 395.8,205.1 395.8,204.4 394.3,204.1 393.3,203.4 392.9,204.0"/>
<path d="M401.3,207.4 400.7,207.4 400.0,208.0 399.9,208.5 399.5,208.7 398.9,209.2 398.0,209.2 397.7,209.7"/>
<path d="M391.3,209.2 392.5,209.8 393.5,208.8 394.2,208.5 395.9,209.3 396.8,209.2 397.7,209.7 397.6,210.1 397.9,210.9 397.8,212.0 396.7,212.0 397.1,212.5 396.6,214.1"/>
<path d="M396.6,214.1 396.2,214.5 394.5,214.6 393.5,215.1 391.7,215.0 388.8,214.4 388.3,213.5 386.2,213.9 386.1,214.4 384.8,214.0"/>
<path d="M391.7,215.0 391.6,216.3 392.2,217.3 391.7,217.6"/>
<path d="M397.9,210.9 399.0,211.6 399.7,211.8 401.4,211.4 401.6,210.9 402.3,210.9 403.3,210.6 404.4,210.3 404.8,209.8 405.5,209.7 407.7,210.4 408.2,210.2 408.4,209.0 408.9,208.4"/>
<path d="M408.2,210.2 409.3,210.8 409.5,211.4 408.4,212.1 407.6,213.7 406.5,215.5 404.9,215.9 403.7,215.9 402.2,216.5 401.4,216.9 399.7,216.4 398.1,215.3 397.4,215.0 396.9,214.1 396.6,214.1"/>
<path d="M409.5,211.4 410.4,210.9 412.9,211.2 413.9,211.8 414.6,211.4 416.1,211.2 416.5,210.7 417.3,210.7 417.8,210.3 419.1,210.1 420.7,210.8 421.5,210.9 422.5,211.6 422.6,212.5 423.3,212.8 423.8,213.9 424.6,214.6 424.5,214.9 424.9,215.3 424.4,215.4 423.2,215.3 422.9,215.0 422.5,215.1 422.8,215.7 422.3,216.4 422.1,217.3 421.6,217.6"/>
<path d="M417.3,210.7 418.0,210.9 418.8,211.6 419.5,212.7 421.0,214.2 421.1,215.4 421.1,216.4 421.6,217.6 422.6,218.1 423.5,217.7 424.5,218.1 424.7,218.7"/>
<path d="M422.9,222.2 421.6,221.9 420.0,220.9 417.6,221.5 416.6,222.2 413.6,222.1 412.0,221.7 411.2,221.9 410.5,220.8 410.0,220.4 410.5,219.9 409.9,219.6 409.4,220.1 408.1,219.5 407.8,218.3 406.4,217.8 406.1,216.9 404.9,215.9"/>
<path d="M410.5,220.8 410.0,221.4 410.3,222.3 411.5,223.5 410.7,224.2 410.5,225.0 410.5,225.8 411.6,226.6 411.9,228.2"/>
<path d="M418.9,227.3 418.4,227.0 420.5,226.2 422.3,226.6"/>
<path d="M410.5,225.8 409.4,225.8 408.8,225.9 408.3,226.1 407.1,226.4 406.8,227.0"/>
<path d="M406.8,226.9 406.5,226.1 406.1,225.8 405.5,225.0 405.8,224.5 406.3,224.2 406.6,223.5 406.9,223.3 407.2,223.6 407.7,223.9 407.9,224.2 408.3,224.4 408.8,224.8 409.1,224.8 408.9,225.4 408.7,225.8 408.8,225.9"/>
<path d="M402.8,219.2 403.5,219.2 403.1,220.4 404.2,221.3 404.0,222.6 403.5,222.7 402.5,223.5 402.3,224.9 400.4,223.9 399.5,222.8 398.7,222.3 397.6,221.3 397.2,220.5 396.1,219.4 396.4,218.2 397.1,218.9 397.6,218.3 398.5,218.2 400.3,218.7 401.8,218.6 402.8,219.2"/>
<path d="M402.2,216.5 402.7,217.6 403.5,218.2 402.8,219.2"/>
<path d="M403.5,222.7 404.1,223.1 405.1,223.7 406.0,224.2 405.5,225.0"/>
<path d="M391.7,217.6 393.1,217.7 393.5,217.2 395.0,217.7 394.9,216.9 395.6,216.7 395.8,215.7 397.4,215.0"/>
<path d="M410.0,202.1 410.9,202.1 411.9,201.4 413.5,201.4 415.5,201.5 417.7,202.1 419.3,202.2 420.1,202.5 420.8,202.1 421.4,202.7 423.2,202.6 424.0,202.9 423.9,201.6 424.4,201.0 426.1,200.9"/>
<path d="M370.2,202.7 371.9,202.7 373.4,202.5 375.1,203.2 374.7,204.1 375.4,204.2"/>
<path d="M380.2,193.9 381.7,194.2"/>
<path d="M344.9,226.9 346.3,226.3 346.5,227.1 348.4,226.8 349.6,226.7 350.4,227.6 348.9,229.2 349.1,231.0 348.6,232.5 347.6,232.6 348.4,234.1 348.6,234.6 347.9,235.9 348.5,236.4 347.4,238.2 347.6,239.0"/>
<path d="M359.7,223.0 360.6,223.9 362.0,224.2 365.0,224.8 366.5,225.0 367.1,225.3 370.1,225.4"/>
<path d="M368.6,203.4 369.3,204.4 370.1,204.9 371.9,206.3 373.2,205.8 373.3,206.6 375.1,207.3 376.2,207.5 377.6,208.2 380.0,208.7 379.2,209.7 378.9,211.2 378.9,212.3"/>
<path d="M375.1,207.3 375.0,205.9 375.7,205.8 376.5,206.6 376.2,207.5"/>
<path d="M375.4,204.2 376.3,205.4 375.7,205.8"/>
<path d="M406.0,232.5 407.3,231.5 407.3,230.6 407.9,229.5"/>
<path d="M349.6,193.5 348.7,195.9 350.6,196.0 351.4,195.9"/>
<path d="M178.7,344.9 178.4,347.6 180.4,347.6 181.3,348.9 182.6,347.9 183.0,346.0 184.3,343.8 187.0,342.8 189.5,340.0 190.2,338.3 189.9,336.4"/>
<path d="M202.7,347.2 200.6,347.1 198.4,348.0 195.8,349.7 195.8,351.0 195.2,351.9 195.5,353.3 194.1,354.0 194.2,355.2 193.5,355.6 194.7,357.9 196.0,359.6 195.5,360.6 197.1,360.8 198.0,362.2 200.0,362.3 201.8,360.8 201.9,364.7 202.9,364.9 204.2,364.6"/>
<path d="M204.2,364.6 206.5,368.7 206.0,369.6 206.0,371.5 206.2,373.7 205.3,375.0 205.9,375.9 205.4,376.8 206.6,379.0 205.4,381.9 205.0,383.2 203.9,383.8"/>
<path d="M205.4,381.9 206.7,383.6 207.2,385.5 208.5,386.6 208.1,389.1 209.6,392.1 210.8,395.6 212.4,395.3"/>
<path d="M204.2,364.6 205.9,364.8 207.2,364.7 207.6,363.9 209.6,362.9 210.7,361.9 213.6,361.4 213.5,363.4 213.9,364.4 213.8,366.1 216.4,368.5 219.0,369.0 219.9,369.9 221.5,370.4 222.5,371.2 223.9,371.2 225.3,372.0 225.5,373.4 226.0,374.2 226.1,375.4 225.4,375.4 226.6,378.4 230.9,378.5 230.7,380.1 231.0,381.0 232.3,381.8 233.0,383.3 232.7,385.4 232.3,386.6 232.6,388.0 232.0,388.7"/>
<path d="M232.0,388.7 231.8,387.8 229.6,386.5 227.5,386.5 223.6,387.2 222.8,389.5 222.8,390.9 222.2,394.0"/>
<path d="M222.2,394.0 221.8,393.5 219.2,393.4 218.5,395.5 217.1,393.6 214.1,393.0 212.4,395.3"/>
<path d="M212.4,395.3 212.3,398.7 210.0,399.9 210.6,404.3 210.3,405.1 211.1,406.1 209.8,407.7 208.8,410.2 208.4,412.5 209.1,415.1 208.2,417.7 210.3,422.3 210.9,422.7 211.5,425.2 210.7,427.7 211.4,429.9 210.2,431.6 210.8,434.0 212.1,436.5 211.1,437.4 211.1,439.7 211.5,442.5 212.8,445.6 212.2,446.1 213.7,449.0 215.0,450.1 214.6,451.1 215.7,451.6 216.3,452.6 215.6,453.0 216.3,454.6 216.8,458.0 216.5,460.2 217.1,461.4 217.2,463.1 216.1,464.1 217.3,466.9 218.3,467.8 219.7,467.6 220.4,469.5 221.9,470.9 226.7,471.3 228.8,471.6"/>
<path d="M229.0,472.5 231.4,478.0"/>
<path d="M222.2,394.0 226.8,398.3 228.6,398.7 231.6,400.5 234.0,401.6 234.5,402.8 232.8,406.7 235.2,407.4 237.7,407.8 239.4,407.4 241.1,405.4 241.2,403.1"/>
<path d="M232.0,388.7 232.8,390.1 232.9,393.6 235.3,394.1 236.3,393.6 237.8,394.3 238.3,395.1 238.7,397.4 239.1,398.4 239.9,398.6 240.7,398.2 241.5,398.6 241.7,400.0 241.5,401.6 241.2,403.1"/>
<path d="M241.2,403.1 243.6,404.1 243.8,406.1 242.1,407.6 240.8,408.7 238.6,411.2 236.1,414.7"/>
<path d="M236.1,414.7 237.5,414.5 240.1,416.6 240.9,416.4 243.5,418.1 245.4,419.6 247.0,421.4 246.2,422.6 247.1,424.0"/>
<path d="M236.1,414.7 236.0,416.8 235.8,419.6 236.3,422.2 235.9,422.7 236.0,424.4"/>
<path d="M200.1,305.9 198.8,305.8 198.0,307.1 197.2,307.8 196.4,308.8 196.0,310.6 195.3,312.1 196.5,312.3 196.8,313.4 197.2,314.1 197.4,315.1 197.0,316.1 197.1,316.7 197.6,316.8 198.2,317.7 201.2,317.5 202.4,317.9 204.0,320.1 204.9,319.8 206.6,320.0 207.9,319.7 208.7,320.1 208.3,321.5 207.7,322.4 207.5,324.3 207.9,326.0 208.5,326.7 208.6,327.4 207.4,328.7 208.2,329.2 208.8,330.1 209.4,332.7"/>
<path d="M226.3,314.2 224.4,315.7 225.0,317.6 224.4,318.1 223.0,318.5 222.9,319.7 222.3,320.5 223.8,322.4"/>
<path d="M232.1,320.4 231.7,322.8 230.3,323.5 230.4,324.0 229.9,325.4 230.9,327.3 231.6,327.3 231.9,328.8 233.3,331.0"/>
<path d="M162.6,295.1 160.2,296.8 159.9,297.3 160.1,297.7 159.6,298.5 159.0,298.6 159.1,298.8 158.7,299.1 157.9,299.8 157.7,300.1"/>
<path d="M159.6,298.5 160.3,298.6 160.7,299.1 161.3,299.5 161.4,299.9 162.4,299.6 162.9,299.8 163.2,300.0 162.9,301.1"/>
<path d="M163.9,302.1 164.6,302.0 164.9,301.5 165.2,301.5 165.4,300.1 166.4,300.1 166.9,299.4 167.6,299.9 168.3,299.2 169.2,298.6 169.2,298.1 169.8,297.4 170.4,297.8 170.8,297.9 171.3,297.5 171.9,297.5 172.7,297.1 173.1,296.9 173.9,296.9"/>
<path d="M167.2,307.1 167.6,306.8 169.0,307.4 169.6,307.1 170.3,307.3 170.6,307.8 171.1,308.0 171.9,307.4"/>
<path d="M174.2,311.1 173.2,311.2 173.2,312.4 173.7,312.7 173.4,313.1 173.3,313.4 173.2,314.1 173.1,314.5"/>
<path d="M160.4,294.5 160.9,294.5"/>
<path d="M239.3,320.7 238.1,323.2 238.3,325.0 239.2,326.6 238.3,327.7 239.2,329.5 238.9,330.5"/>
<path d="M201.2,284.6 201.3,286.1 201.0,287.0 200.3,287.5 200.8,288.3 200.8,288.9"/>
</g>
<g id="legend" stroke-width="1">
<rect x="86.9" y="535.3" width="13" height="13" fill="#2b83ba" stroke="#8f8f8f"/>
<text class="leg" x="106" y="546" textLength="46.6" lengthAdjust="spacingAndGlyphs">Banned</text>
<rect x="167.3" y="535.3" width="13" height="13" fill="#abdda4" stroke="#8f8f8f"/>
<text class="leg" x="185.6" y="546" textLength="100.6" lengthAdjust="spacingAndGlyphs">Varies by region</text>
<rect x="301.9" y="535.3" width="13" height="13" fill="#ffffbf" stroke="#8f8f8f"/>
<text class="leg" x="320.6" y="546" textLength="144.8" lengthAdjust="spacingAndGlyphs">Sexual orientation only</text>
<rect x="479.7" y="535.3" width="13" height="13" fill="#fdae61" stroke="#8f8f8f"/>
<text class="leg" x="497.4" y="546" textLength="70.6" lengthAdjust="spacingAndGlyphs">Ambiguous</text>
<rect x="582.3" y="535.3" width="13" height="13" fill="#d7191c" stroke="#8f8f8f"/>
<text class="leg" x="599.8" y="546" textLength="74.6" lengthAdjust="spacingAndGlyphs">Not banned</text>
<rect x="687.2" y="535.3" width="13" height="13" fill="url(#hatch)" stroke="#bdbdbd"/>
<text class="leg" x="705.7" y="546" textLength="49.6" lengthAdjust="spacingAndGlyphs">No data</text>
</g>
<text class="foot" x="16" y="580.8"><tspan font-weight="bold" textLength="71.5" lengthAdjust="spacingAndGlyphs">Data source:</tspan><tspan dx="4.2" textLength="92.3" lengthAdjust="spacingAndGlyphs">Equaldex (2025)</tspan></text>
<text class="foot" x="606.2" y="580.8" textLength="228.3" lengthAdjust="spacingAndGlyphs">OurWorldinData.org/lgbt-rights | CC BY</text>
</svg>
</body>
</html>
